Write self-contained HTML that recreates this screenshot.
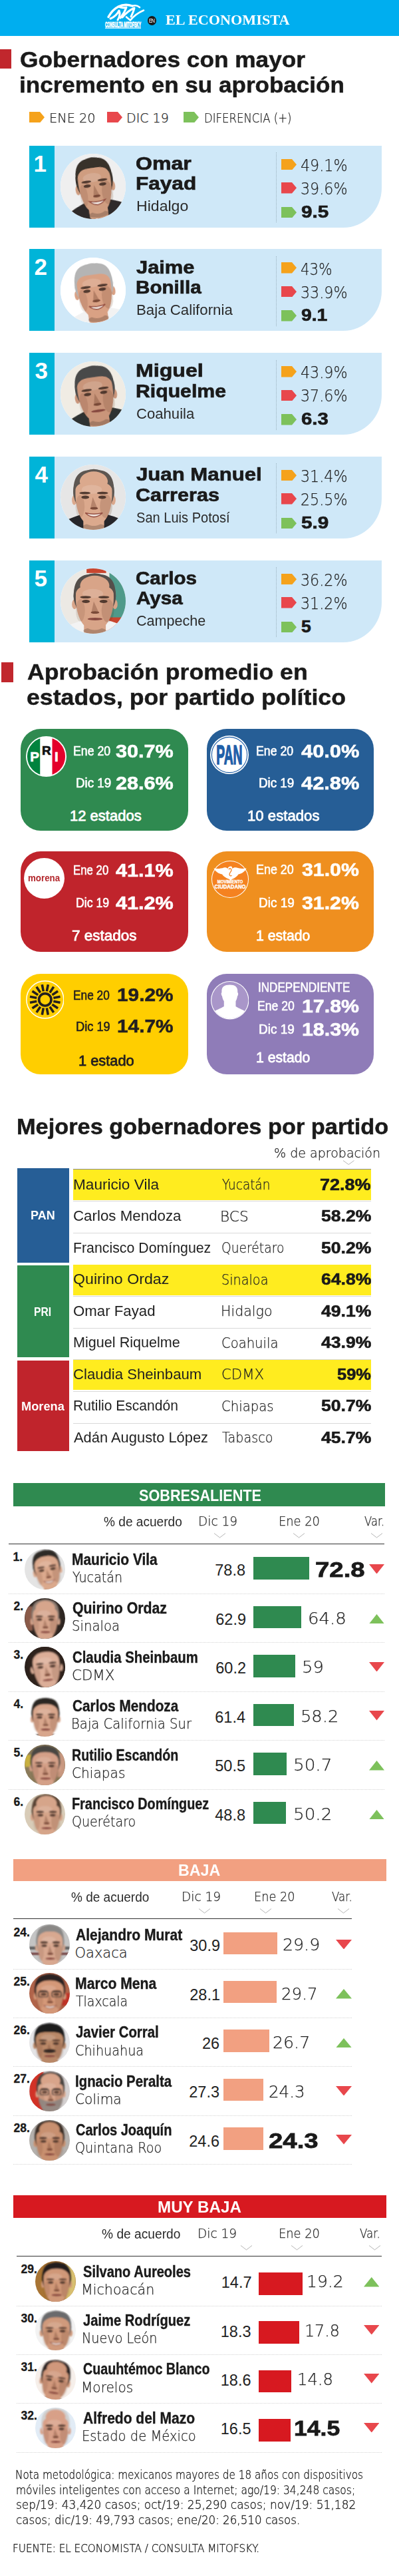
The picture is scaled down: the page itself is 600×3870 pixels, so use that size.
<!DOCTYPE html>
<html lang="es"><head><meta charset="utf-8"><title>Gobernadores - El Economista / Consulta Mitofsky</title>
<style>
html,body{margin:0;padding:0;background:#fff}
body{width:600px;height:3870px;position:relative;overflow:hidden;font-family:"Liberation Sans",sans-serif;color:#231f20}
#g div,#g svg{position:absolute}
#t span{position:absolute;white-space:nowrap;line-height:1;transform-origin:0 0}
#t .sf{font-family:'Liberation Serif',serif}
#t .lt{font-family:'DejaVu Sans Light','DejaVu Sans','Liberation Sans',sans-serif;font-weight:200}
</style></head><body>
<div id="g">
<div style="left:0px;top:0px;width:600px;height:54px;background:#00aeef;"></div>
<svg style="left:156px;top:2px" width="64" height="44" viewBox="156 2 64 44"><g fill="none" stroke="#fff" stroke-linecap="round" stroke-linejoin="round"><path d="M163,25.5 C167,18 172,13 178,10 C184,7 192,6.5 199,9" stroke-width="3.4"/><path d="M166,28 C171,26 176,22 179,16 C181,20 180,25 177,30" stroke-width="3"/><path d="M178,10 C182,12 186,12 190,11 C188,17 185,22 181,27" stroke-width="3"/><path d="M184,26 C189,20 195,15 202,12 C201,17 199,21 197,25" stroke-width="3"/><path d="M199,9 C203,7.5 207,8.5 210,11" stroke-width="2.6"/><path d="M190,25.5 L196,30.5 C201,24 208,19 216,15.5" stroke-width="2.6"/></g><text x="158" y="40.6" font-family="Liberation Sans, sans-serif" font-weight="700" font-size="11.5" fill="#fff" stroke="#fff" stroke-width="0.8" textLength="54" lengthAdjust="spacingAndGlyphs">CONSULTA MITOFSKY</text><rect x="158" y="41.6" width="54" height="1.2" fill="#fff"/></svg>
<div style="left:222px;top:24.2px;width:13.4px;height:13.4px;border-radius:50%;background:#1a1a1a"></div>
<div style="left:0px;top:74px;width:17px;height:29px;background:#c1272d;"></div>
<svg style="left:44px;top:167.5px" width="23" height="16.5"><polygon points="0,0 16,0 23,8.25 16,16.5 0,16.5" fill="#f5a21b"/></svg>
<svg style="left:161px;top:167.5px" width="23" height="16.5"><polygon points="0,0 16,0 23,8.25 16,16.5 0,16.5" fill="#e8474c"/></svg>
<svg style="left:276px;top:167.5px" width="23" height="16.5"><polygon points="0,0 16,0 23,8.25 16,16.5 0,16.5" fill="#7dc15b"/></svg>
<div style="left:44px;top:218.5px;width:530px;height:123px;background:#cfe8f8;border-bottom-right-radius:58px 60px"></div>
<div style="left:44px;top:218.5px;width:38px;height:123px;background:#00b4d8;"></div>
<div style="left:91px;top:231.0px;width:98px;height:98px;border-radius:50%;background:#fff"></div>
<svg style="left:91.0px;top:231.0px" width="98.0" height="98.0" viewBox="0 0 200 200"><defs><clipPath id="c1"><circle cx="100" cy="100" r="100"/></clipPath><filter id="b1" x="-10%" y="-10%" width="120%" height="120%"><feGaussianBlur stdDeviation="1.6"/></filter></defs><g clip-path="url(#c1)"><rect width="200" height="200" fill="#efefef"/><g filter="url(#b1)" transform="rotate(-8 106 98)"><path d="M-23,215 C-12,174 56,150 81,142 L134,142 C162,150 229,174 240,215Z" fill="#2d2b2b"/><polygon points="78,142 137,142 118,215 98,215" fill="#f4f4f4"/><polygon points="101,160 117,160 120,215 100,215" fill="#7a3a30"/><rect x="77" y="137" width="58" height="62" rx="10" fill="#cf9d80"/><ellipse cx="106" cy="186" rx="31" ry="10" fill="#00000030"/><ellipse cx="52" cy="105" rx="7" ry="15" fill="#cf9d80"/><ellipse cx="160" cy="105" rx="7" ry="15" fill="#cf9d80"/><ellipse cx="106" cy="79" rx="57" ry="69" fill="#37302c"/><path d="M56,72 C53,137 72,184 106,184 C140,184 159,137 156,72 C154,25 58,25 56,72Z" fill="#cf9d80"/><path d="M50,94 C46,21 72,12 106,12 C140,12 166,21 162,94 C158,40 134,43 106,43 C78,43 54,40 50,94Z" fill="#37302c"/><ellipse cx="141" cy="124" rx="17" ry="36" fill="#5a2a1a" opacity="0.16"/><ellipse cx="68" cy="124" rx="12" ry="34" fill="#5a2a1a" opacity="0.12"/><ellipse cx="100" cy="72" rx="28" ry="14" fill="#fff" opacity="0.14"/></g><g filter="url(#b1)" opacity="0.85" transform="rotate(-8 106 98)"><ellipse cx="82" cy="96" rx="11" ry="5" fill="#3e2a22"/><ellipse cx="130" cy="96" rx="11" ry="5" fill="#3e2a22"/><ellipse cx="81" cy="83" rx="15" ry="4" fill="#3e2a22"/><ellipse cx="131" cy="83" rx="15" ry="4" fill="#3e2a22"/><path d="M103,96 L97,129 L116,129Z" fill="#7a4a38" opacity="0.45"/><ellipse cx="107" cy="130" rx="11" ry="4" fill="#6a3a2c"/><path d="M82,144 Q106,151 131,144 Q106,169 82,144Z" fill="#f4efec" stroke="#8a4238" stroke-width="3"/></g></g></svg>
<div style="left:415px;top:229.0px;width:0;height:105px;border-left:1px dotted #9ab0bd"></div>
<svg style="left:423px;top:238.5px" width="23" height="16.5"><polygon points="0,0 16,0 23,8.25 16,16.5 0,16.5" fill="#f5a21b"/></svg>
<svg style="left:423px;top:274.0px" width="23" height="16.5"><polygon points="0,0 16,0 23,8.25 16,16.5 0,16.5" fill="#e8474c"/></svg>
<svg style="left:423px;top:310.5px" width="23" height="16.5"><polygon points="0,0 16,0 23,8.25 16,16.5 0,16.5" fill="#7dc15b"/></svg>
<div style="left:44px;top:374.25px;width:530px;height:123px;background:#cfe8f8;border-bottom-right-radius:58px 60px"></div>
<div style="left:44px;top:374.25px;width:38px;height:123px;background:#00b4d8;"></div>
<div style="left:91px;top:386.75px;width:98px;height:98px;border-radius:50%;background:#fff"></div>
<svg style="left:91.0px;top:386.8px" width="98.0" height="98.0" viewBox="0 0 200 200"><defs><clipPath id="c2"><circle cx="100" cy="100" r="100"/></clipPath><filter id="b2" x="-10%" y="-10%" width="120%" height="120%"><feGaussianBlur stdDeviation="1.6"/></filter></defs><g clip-path="url(#c2)"><rect width="200" height="200" fill="#ffffff"/><g filter="url(#b2)" transform="rotate(-8 105 102)"><path d="M-28,215 C-17,188 53,164 79,156 L134,156 C163,164 233,188 244,215Z" fill="#f2f2f2"/><polygon points="76,156 137,156 118,215 96,215" fill="#ffffff"/><rect x="75" y="140" width="60" height="60" rx="10" fill="#d9a184"/><ellipse cx="105" cy="188" rx="32" ry="10" fill="#00000030"/><ellipse cx="49" cy="109" rx="7" ry="14" fill="#d9a184"/><ellipse cx="161" cy="109" rx="7" ry="14" fill="#d9a184"/><ellipse cx="105" cy="84" rx="59" ry="67" fill="#b4b4b4"/><path d="M53,77 C50,140 70,186 105,186 C140,186 160,140 157,77 C154,31 56,31 53,77Z" fill="#d9a184"/><path d="M47,98 C42,26 70,18 105,18 C140,18 168,26 163,98 C158,48 134,52 105,52 C76,52 52,48 47,98Z" fill="#b4b4b4"/><ellipse cx="141" cy="127" rx="17" ry="35" fill="#5a2a1a" opacity="0.16"/><ellipse cx="66" cy="127" rx="13" ry="34" fill="#5a2a1a" opacity="0.12"/><ellipse cx="99" cy="77" rx="29" ry="13" fill="#fff" opacity="0.14"/></g><g filter="url(#b2)" opacity="0.85" transform="rotate(-8 105 102)"><ellipse cx="81" cy="100" rx="11" ry="5" fill="#3e2a22"/><ellipse cx="129" cy="100" rx="11" ry="5" fill="#3e2a22"/><ellipse cx="79" cy="88" rx="16" ry="4" fill="#3e2a22"/><ellipse cx="131" cy="88" rx="16" ry="4" fill="#3e2a22"/><path d="M102,100 L96,132 L115,132Z" fill="#7a4a38" opacity="0.45"/><ellipse cx="106" cy="133" rx="12" ry="4" fill="#6a3a2c"/><path d="M81,147 Q105,154 131,147 Q105,171 81,147Z" fill="#f4efec" stroke="#8a4238" stroke-width="3"/></g></g></svg>
<div style="left:415px;top:384.75px;width:0;height:105px;border-left:1px dotted #9ab0bd"></div>
<svg style="left:423px;top:394.25px" width="23" height="16.5"><polygon points="0,0 16,0 23,8.25 16,16.5 0,16.5" fill="#f5a21b"/></svg>
<svg style="left:423px;top:429.75px" width="23" height="16.5"><polygon points="0,0 16,0 23,8.25 16,16.5 0,16.5" fill="#e8474c"/></svg>
<svg style="left:423px;top:466.25px" width="23" height="16.5"><polygon points="0,0 16,0 23,8.25 16,16.5 0,16.5" fill="#7dc15b"/></svg>
<div style="left:44px;top:530.0px;width:530px;height:123px;background:#cfe8f8;border-bottom-right-radius:58px 60px"></div>
<div style="left:44px;top:530.0px;width:38px;height:123px;background:#00b4d8;"></div>
<div style="left:91px;top:542.5px;width:98px;height:98px;border-radius:50%;background:#fff"></div>
<svg style="left:91.0px;top:542.5px" width="98.0" height="98.0" viewBox="0 0 200 200"><defs><clipPath id="c3"><circle cx="100" cy="100" r="100"/></clipPath><filter id="b3" x="-10%" y="-10%" width="120%" height="120%"><feGaussianBlur stdDeviation="1.6"/></filter></defs><g clip-path="url(#c3)"><rect width="200" height="200" fill="#f0ece4"/><g filter="url(#b3)" transform="rotate(-8 108 100)"><path d="M-30,215 C-18,176 54,152 81,144 L138,144 C168,152 240,176 252,215Z" fill="#2f3330"/><polygon points="78,144 141,144 121,215 99,215" fill="#f0f0f0"/><polygon points="103,162 119,162 122,215 102,215" fill="#b02a30"/><rect x="77" y="139" width="62" height="62" rx="10" fill="#c9957a"/><ellipse cx="108" cy="188" rx="33" ry="10" fill="#00000030"/><ellipse cx="50" cy="107" rx="7" ry="15" fill="#c9957a"/><ellipse cx="166" cy="107" rx="7" ry="15" fill="#c9957a"/><ellipse cx="108" cy="81" rx="61" ry="69" fill="#4a4a4a"/><path d="M54,74 C51,139 72,186 108,186 C144,186 165,139 162,74 C159,27 57,27 54,74Z" fill="#c9957a"/><path d="M48,96 C43,23 72,14 108,14 C144,14 173,23 168,96 C163,45 138,48 108,48 C78,48 53,45 48,96Z" fill="#4a4a4a"/><ellipse cx="145" cy="126" rx="18" ry="36" fill="#5a2a1a" opacity="0.16"/><ellipse cx="67" cy="126" rx="13" ry="34" fill="#5a2a1a" opacity="0.12"/><ellipse cx="102" cy="74" rx="30" ry="14" fill="#fff" opacity="0.14"/></g><g filter="url(#b3)" opacity="0.85" transform="rotate(-8 108 100)"><ellipse cx="83" cy="98" rx="11" ry="5" fill="#3e2a22"/><ellipse cx="133" cy="98" rx="11" ry="5" fill="#3e2a22"/><ellipse cx="82" cy="85" rx="16" ry="4" fill="#3e2a22"/><ellipse cx="134" cy="85" rx="16" ry="4" fill="#3e2a22"/><path d="M105,98 L98,131 L119,131Z" fill="#7a4a38" opacity="0.45"/><ellipse cx="109" cy="132" rx="12" ry="4" fill="#6a3a2c"/><ellipse cx="109" cy="152" rx="22" ry="4" fill="#7a3a34"/></g></g></svg>
<div style="left:415px;top:540.5px;width:0;height:105px;border-left:1px dotted #9ab0bd"></div>
<svg style="left:423px;top:550.0px" width="23" height="16.5"><polygon points="0,0 16,0 23,8.25 16,16.5 0,16.5" fill="#f5a21b"/></svg>
<svg style="left:423px;top:585.5px" width="23" height="16.5"><polygon points="0,0 16,0 23,8.25 16,16.5 0,16.5" fill="#e8474c"/></svg>
<svg style="left:423px;top:622.0px" width="23" height="16.5"><polygon points="0,0 16,0 23,8.25 16,16.5 0,16.5" fill="#7dc15b"/></svg>
<div style="left:44px;top:685.75px;width:530px;height:123px;background:#cfe8f8;border-bottom-right-radius:58px 60px"></div>
<div style="left:44px;top:685.75px;width:38px;height:123px;background:#00b4d8;"></div>
<div style="left:91px;top:698.25px;width:98px;height:98px;border-radius:50%;background:#fff"></div>
<svg style="left:91.0px;top:698.2px" width="98.0" height="98.0" viewBox="0 0 200 200"><defs><clipPath id="c4"><circle cx="100" cy="100" r="100"/></clipPath><filter id="b4" x="-10%" y="-10%" width="120%" height="120%"><feGaussianBlur stdDeviation="1.6"/></filter></defs><g clip-path="url(#c4)"><rect width="200" height="200" fill="#e6e6e6"/><g filter="url(#b4)" transform="rotate(0 102 102)"><path d="M-41,215 C-28,182 46,158 74,150 L133,150 C164,158 238,182 251,215Z" fill="#26262a"/><polygon points="71,150 136,150 116,215 93,215" fill="#f6f6f6"/><rect x="70" y="141" width="64" height="62" rx="10" fill="#dba98d"/><ellipse cx="102" cy="190" rx="34" ry="10" fill="#00000030"/><ellipse cx="42" cy="109" rx="7" ry="15" fill="#dba98d"/><ellipse cx="162" cy="109" rx="7" ry="15" fill="#dba98d"/><ellipse cx="102" cy="83" rx="63" ry="69" fill="#5d5651"/><path d="M46,76 C43,141 65,188 102,188 C139,188 161,141 158,76 C155,29 49,29 46,76Z" fill="#dba98d"/><path d="M40,98 C35,25 65,16 102,16 C139,16 169,25 164,98 C159,50 133,53 102,64 C71,53 45,50 40,98Z" fill="#5d5651"/><ellipse cx="102" cy="52" rx="43" ry="31" fill="#dba98d"/><ellipse cx="140" cy="128" rx="19" ry="36" fill="#5a2a1a" opacity="0.16"/><ellipse cx="60" cy="128" rx="14" ry="34" fill="#5a2a1a" opacity="0.12"/><ellipse cx="96" cy="76" rx="31" ry="14" fill="#fff" opacity="0.14"/></g><g filter="url(#b4)" opacity="0.85" transform="rotate(0 102 102)"><ellipse cx="76" cy="100" rx="12" ry="5" fill="#3e2a22"/><ellipse cx="128" cy="100" rx="12" ry="5" fill="#3e2a22"/><ellipse cx="75" cy="87" rx="17" ry="4" fill="#3e2a22"/><ellipse cx="129" cy="87" rx="17" ry="4" fill="#3e2a22"/><path d="M99,100 L92,133 L113,133Z" fill="#7a4a38" opacity="0.45"/><ellipse cx="103" cy="134" rx="12" ry="4" fill="#6a3a2c"/><path d="M76,148 Q102,155 129,148 Q102,173 76,148Z" fill="#f4efec" stroke="#8a4238" stroke-width="3"/></g></g></svg>
<div style="left:415px;top:696.25px;width:0;height:105px;border-left:1px dotted #9ab0bd"></div>
<svg style="left:423px;top:705.75px" width="23" height="16.5"><polygon points="0,0 16,0 23,8.25 16,16.5 0,16.5" fill="#f5a21b"/></svg>
<svg style="left:423px;top:741.25px" width="23" height="16.5"><polygon points="0,0 16,0 23,8.25 16,16.5 0,16.5" fill="#e8474c"/></svg>
<svg style="left:423px;top:777.75px" width="23" height="16.5"><polygon points="0,0 16,0 23,8.25 16,16.5 0,16.5" fill="#7dc15b"/></svg>
<div style="left:44px;top:841.5px;width:530px;height:123px;background:#cfe8f8;border-bottom-right-radius:58px 60px"></div>
<div style="left:44px;top:841.5px;width:38px;height:123px;background:#00b4d8;"></div>
<div style="left:91px;top:854.0px;width:98px;height:98px;border-radius:50%;background:#fff"></div>
<svg style="left:91.0px;top:854.0px" width="98.0" height="98.0" viewBox="0 0 200 200"><defs><clipPath id="c5"><circle cx="100" cy="100" r="100"/></clipPath><filter id="b5" x="-10%" y="-10%" width="120%" height="120%"><feGaussianBlur stdDeviation="1.6"/></filter></defs><g clip-path="url(#c5)"><rect width="200" height="200" fill="#ece9e4"/><g filter="url(#b5)"><rect x="150" y="0" width="60" height="200" fill="#4f9a8a"/><rect x="140" y="150" width="60" height="50" fill="#c8452e"/><rect x="80" y="0" width="60" height="14" fill="#c8452e"/></g><g filter="url(#b5)" transform="rotate(0 105 103)"><path d="M-42,215 C-29,189 47,165 76,157 L137,157 C169,165 246,189 259,215Z" fill="#f3f3f3"/><polygon points="73,157 140,157 119,215 95,215" fill="#ffffff"/><rect x="72" y="142" width="67" height="62" rx="10" fill="#d8a488"/><ellipse cx="105" cy="191" rx="35" ry="10" fill="#00000030"/><ellipse cx="43" cy="110" rx="8" ry="15" fill="#d8a488"/><ellipse cx="167" cy="110" rx="8" ry="15" fill="#d8a488"/><ellipse cx="105" cy="84" rx="65" ry="69" fill="#55504c"/><path d="M47,77 C44,142 67,189 105,189 C143,189 166,142 163,77 C159,30 51,30 47,77Z" fill="#d8a488"/><path d="M41,99 C36,26 67,17 105,17 C143,17 174,26 169,99 C164,48 137,52 105,59 C73,52 46,48 41,99Z" fill="#55504c"/><ellipse cx="105" cy="53" rx="45" ry="31" fill="#d8a488"/><ellipse cx="145" cy="129" rx="19" ry="36" fill="#5a2a1a" opacity="0.16"/><ellipse cx="61" cy="129" rx="14" ry="34" fill="#5a2a1a" opacity="0.12"/><ellipse cx="99" cy="77" rx="32" ry="14" fill="#fff" opacity="0.14"/></g><g filter="url(#b5)" opacity="0.85" transform="rotate(0 105 103)"><ellipse cx="78" cy="101" rx="12" ry="5" fill="#3e2a22"/><ellipse cx="132" cy="101" rx="12" ry="5" fill="#3e2a22"/><ellipse cx="77" cy="88" rx="17" ry="4" fill="#3e2a22"/><ellipse cx="133" cy="88" rx="17" ry="4" fill="#3e2a22"/><path d="M102,101 L95,134 L117,134Z" fill="#7a4a38" opacity="0.45"/><ellipse cx="106" cy="135" rx="13" ry="4" fill="#6a3a2c"/><ellipse cx="106" cy="155" rx="23" ry="4" fill="#7a3a34"/></g></g></svg>
<div style="left:415px;top:852.0px;width:0;height:105px;border-left:1px dotted #9ab0bd"></div>
<svg style="left:423px;top:861.5px" width="23" height="16.5"><polygon points="0,0 16,0 23,8.25 16,16.5 0,16.5" fill="#f5a21b"/></svg>
<svg style="left:423px;top:897.0px" width="23" height="16.5"><polygon points="0,0 16,0 23,8.25 16,16.5 0,16.5" fill="#e8474c"/></svg>
<svg style="left:423px;top:933.5px" width="23" height="16.5"><polygon points="0,0 16,0 23,8.25 16,16.5 0,16.5" fill="#7dc15b"/></svg>
<div style="left:2px;top:995px;width:17.5px;height:29.5px;background:#c1272d;"></div>
<div style="left:31px;top:1095px;width:251.5px;height:153px;background:#2f8a50;border-radius:30px"></div>
<svg style="left:38.5px;top:1105.5px" width="61" height="61" viewBox="0 0 61 61"><defs><clipPath id="pri"><circle cx="30.5" cy="30.5" r="28.6"/></clipPath></defs><circle cx="30.5" cy="30.5" r="30.5" fill="#fff"/><g clip-path="url(#pri)"><rect x="0" y="0" width="21.5" height="61" fill="#00833e"/><rect x="21.5" y="0" width="18" height="61" fill="#fff"/><rect x="39.5" y="0" width="22" height="61" fill="#e4002b"/></g><g font-family="Liberation Sans, sans-serif" font-weight="bold" stroke-width="0.7"><text x="6.3" y="37.8" font-size="20.5" fill="#fff" stroke="#fff">P</text><text x="24" y="27.8" font-size="19" fill="#111" stroke="#111">R</text><text x="43" y="37.8" font-size="20.5" fill="#fff" stroke="#fff">I</text></g></svg>
<div style="left:311px;top:1095px;width:250.5px;height:153px;background:#265e96;border-radius:30px"></div>
<svg style="left:316.4px;top:1104.6px" width="58" height="58" viewBox="0 0 58 58"><circle cx="29" cy="29" r="29" fill="#fff"/><circle cx="29" cy="29" r="26.6" fill="none" stroke="#1f5fa8" stroke-width="1.1"/><text x="9.2" y="43.4" font-family="Liberation Sans, sans-serif" font-weight="bold" font-size="40.5" fill="#1f5fa8" stroke="#1f5fa8" stroke-width="1.6" textLength="39.4" lengthAdjust="spacingAndGlyphs">PAN</text></svg>
<div style="left:31px;top:1278.5px;width:251.5px;height:151.5px;background:#c0242c;border-radius:30px"></div>
<div style="left:36px;top:1289px;width:61px;height:61px;border-radius:50%;background:#fff"></div>
<div style="left:311px;top:1278.5px;width:250.5px;height:151.5px;background:#ef8f1f;border-radius:30px"></div>
<svg style="left:317.7px;top:1292.5px" width="56" height="56" viewBox="0 0 56 56"><circle cx="28" cy="28" r="28" fill="#fff"/><circle cx="28" cy="28" r="27" fill="#f58220"/><path d="M3.5,11.5 C9,12.5 14,12 18.5,10.5 C21,9.8 23,10.5 24.5,12 C25,9.5 27,8.2 29.5,8.6 C31,9 31.6,10.4 31,12 C33,10.4 35.5,9.8 38,10.6 C42,12 47,12.4 52.5,11.5 C50.5,16 46,19.5 40.5,20.5 C38.5,23.5 35.5,26 31.5,27.5 L29,29.5 L26,27.5 C21.5,26 18,23.5 16,20.5 C10.5,19.5 5.5,16 3.5,11.5Z" fill="#fff"/><path d="M26,13 C27.5,11 30,11.5 30,14 C30,17 26.5,18 27,21 C27.3,23 29.5,23.5 30.5,22" fill="none" stroke="#f58220" stroke-width="1.3"/><text x="28" y="34.2" text-anchor="middle" font-family="Liberation Sans, sans-serif" font-weight="bold" font-size="6.4" fill="#fff" stroke="#fff" stroke-width="0.3" textLength="38.5" lengthAdjust="spacingAndGlyphs">MOVIMIENTO</text><text x="28" y="42" text-anchor="middle" font-family="Liberation Sans, sans-serif" font-weight="bold" font-size="8.4" fill="#fff" stroke="#fff" stroke-width="0.4" textLength="47" lengthAdjust="spacingAndGlyphs">CIUDADANO</text></svg>
<div style="left:31px;top:1462.5px;width:251.5px;height:151px;background:#ffce00;border-radius:30px"></div>
<svg style="left:38.6px;top:1473.3px" width="57.6" height="57.6" viewBox="0 0 57.6 57.6"><circle cx="28.8" cy="28.8" r="28" fill="#ffce00" stroke="#fff" stroke-width="1.5"/><rect x="27" y="5.6" width="3.6" height="10.4" fill="#231f20" transform="rotate(11.25 28.8 28.8)"/><rect x="27" y="5.6" width="3.6" height="10.4" fill="#231f20" transform="rotate(33.75 28.8 28.8)"/><rect x="27" y="5.6" width="3.6" height="10.4" fill="#231f20" transform="rotate(56.25 28.8 28.8)"/><rect x="27" y="5.6" width="3.6" height="10.4" fill="#231f20" transform="rotate(78.75 28.8 28.8)"/><rect x="27" y="5.6" width="3.6" height="10.4" fill="#231f20" transform="rotate(101.25 28.8 28.8)"/><rect x="27" y="5.6" width="3.6" height="10.4" fill="#231f20" transform="rotate(123.75 28.8 28.8)"/><rect x="27" y="5.6" width="3.6" height="10.4" fill="#231f20" transform="rotate(146.25 28.8 28.8)"/><rect x="27" y="5.6" width="3.6" height="10.4" fill="#231f20" transform="rotate(168.75 28.8 28.8)"/><rect x="27" y="5.6" width="3.6" height="10.4" fill="#231f20" transform="rotate(191.25 28.8 28.8)"/><rect x="27" y="5.6" width="3.6" height="10.4" fill="#231f20" transform="rotate(213.75 28.8 28.8)"/><rect x="27" y="5.6" width="3.6" height="10.4" fill="#231f20" transform="rotate(236.25 28.8 28.8)"/><rect x="27" y="5.6" width="3.6" height="10.4" fill="#231f20" transform="rotate(258.75 28.8 28.8)"/><rect x="27" y="5.6" width="3.6" height="10.4" fill="#231f20" transform="rotate(281.25 28.8 28.8)"/><rect x="27" y="5.6" width="3.6" height="10.4" fill="#231f20" transform="rotate(303.75 28.8 28.8)"/><rect x="27" y="5.6" width="3.6" height="10.4" fill="#231f20" transform="rotate(326.25 28.8 28.8)"/><rect x="27" y="5.6" width="3.6" height="10.4" fill="#231f20" transform="rotate(348.75 28.8 28.8)"/><circle cx="28.8" cy="28.8" r="9.2" fill="none" stroke="#231f20" stroke-width="3.7"/></svg>
<div style="left:311px;top:1462.5px;width:250.5px;height:151.5px;background:#8f7cb8;border-radius:30px"></div>
<svg style="left:317px;top:1474.3px" width="57.4" height="57.4" viewBox="0 0 57.4 57.4"><defs><clipPath id="ind"><circle cx="28.7" cy="28.7" r="27.6"/></clipPath></defs><circle cx="28.7" cy="28.7" r="28.7" fill="#fff"/><circle cx="28.7" cy="28.7" r="27.6" fill="#a996c9"/><g clip-path="url(#ind)" fill="#fff"><path d="M16.5,17 C15.5,9 20,5.5 28.5,5.5 C37,5.5 41,9 40.2,17 C41.6,17.5 41.4,21 40,22.5 C39.5,26 38.5,28.5 37.5,30 L37.5,38 C42,41 50,43.5 55,47.5 L55,58 L2,58 L2,47.5 C7,43.5 15,41 19.8,38 L19.8,30 C18.6,28.5 17.6,26 17,22.5 C15.6,21 15.2,17.5 16.5,17Z"/></g></svg>
<svg style="left:516px;top:1742.5px" width="16.5" height="7.5"><polyline points="0,0.5 8.25,6.5 16.5,0.5" fill="none" stroke="#b5b5b5" stroke-width="1"/></svg>
<div style="left:26px;top:1755px;width:77.5px;height:141.5px;background:#265e96;"></div>
<div style="left:26px;top:1901px;width:77.5px;height:138px;background:#2f8a50;"></div>
<div style="left:26px;top:2044px;width:77.5px;height:136px;background:#c0242c;"></div>
<div style="left:109.5px;top:1756px;width:448px;height:1.2px;background:#8c8c8c;"></div>
<div style="left:109.5px;top:1757.3px;width:448px;height:45.5px;background:#ffec1f;"></div>
<div style="left:109.5px;top:1804.3px;width:448px;height:1px;background:#d9d9d9;"></div>
<div style="left:109.5px;top:1851.8999999999999px;width:448px;height:1px;background:#d9d9d9;"></div>
<div style="left:109.5px;top:1899.5px;width:448px;height:1px;background:#d9d9d9;"></div>
<div style="left:109.5px;top:1900.1px;width:448px;height:45.5px;background:#ffec1f;"></div>
<div style="left:109.5px;top:1947.1px;width:448px;height:1px;background:#d9d9d9;"></div>
<div style="left:109.5px;top:1994.7px;width:448px;height:1px;background:#d9d9d9;"></div>
<div style="left:109.5px;top:2042.3px;width:448px;height:1px;background:#d9d9d9;"></div>
<div style="left:109.5px;top:2042.9px;width:448px;height:45.5px;background:#ffec1f;"></div>
<div style="left:109.5px;top:2089.9px;width:448px;height:1px;background:#d9d9d9;"></div>
<div style="left:109.5px;top:2137.5px;width:448px;height:1px;background:#d9d9d9;"></div>
<div style="left:20px;top:2227.5px;width:558.5px;height:35px;background:#2f8a50;"></div>
<svg style="left:321.5px;top:2303px" width="17" height="8"><polyline points="0,0.5 8.5,7 17,0.5" fill="none" stroke="#b5b5b5" stroke-width="1"/></svg>
<svg style="left:440.5px;top:2303px" width="17" height="8"><polyline points="0,0.5 8.5,7 17,0.5" fill="none" stroke="#b5b5b5" stroke-width="1"/></svg>
<svg style="left:557.5px;top:2303px" width="17" height="8"><polyline points="0,0.5 8.5,7 17,0.5" fill="none" stroke="#b5b5b5" stroke-width="1"/></svg>
<div style="left:13px;top:2318.5px;width:564.5px;height:1px;background:#333;"></div>
<svg style="left:37.0px;top:2327.0px" width="61.0" height="61.0" viewBox="0 0 200 200"><defs><clipPath id="c6"><circle cx="100" cy="100" r="100"/></clipPath><filter id="b6" x="-10%" y="-10%" width="120%" height="120%"><feGaussianBlur stdDeviation="3"/></filter></defs><g clip-path="url(#c6)"><rect width="200" height="200" fill="#e4e4e4"/><g filter="url(#b6)" transform="rotate(-10 112 104)"><path d="M-40,215 C-27,218 53,194 82,186 L145,186 C178,194 257,218 270,215Z" fill="#f4f4f4"/><polygon points="79,186 148,186 127,215 102,215" fill="#fff"/><rect x="78" y="148" width="69" height="71" rx="10" fill="#dba98d"/><ellipse cx="112" cy="204" rx="36" ry="12" fill="#00000030"/><ellipse cx="48" cy="112" rx="8" ry="17" fill="#dba98d"/><ellipse cx="176" cy="112" rx="8" ry="17" fill="#dba98d"/><ellipse cx="112" cy="82" rx="67" ry="78" fill="#2e2a28"/><path d="M53,75 C49,148 72,202 112,202 C152,202 175,148 171,75 C168,21 56,21 53,75Z" fill="#dba98d"/><path d="M46,99 C41,16 72,6 112,6 C152,6 183,16 178,99 C173,32 145,35 112,35 C79,35 51,32 46,99Z" fill="#2e2a28"/><ellipse cx="153" cy="133" rx="20" ry="41" fill="#5a2a1a" opacity="0.16"/><ellipse cx="67" cy="133" rx="15" ry="39" fill="#5a2a1a" opacity="0.12"/><ellipse cx="105" cy="75" rx="33" ry="16" fill="#fff" opacity="0.14"/></g><g filter="url(#b6)" opacity="0.85" transform="rotate(-10 112 104)"><ellipse cx="84" cy="102" rx="13" ry="6" fill="#3e2a22"/><ellipse cx="140" cy="102" rx="13" ry="6" fill="#3e2a22"/><ellipse cx="83" cy="87" rx="18" ry="4" fill="#3e2a22"/><ellipse cx="141" cy="87" rx="18" ry="4" fill="#3e2a22"/><path d="M109,102 L101,139 L124,139Z" fill="#7a4a38" opacity="0.45"/><ellipse cx="113" cy="140" rx="13" ry="4" fill="#6a3a2c"/><path d="M84,156 Q112,165 141,156 Q112,184 84,156Z" fill="#f4efec" stroke="#8a4238" stroke-width="3"/></g></g></svg>
<div style="left:381px;top:2339.0px;width:84px;height:33.5px;background:#2f8a50;"></div>
<svg style="left:554.5px;top:2349.5px" width="23.0" height="14.5"><polygon points="0,0 23.0,0 11.5,14.5" fill="#e8474c"/></svg>
<div style="left:13px;top:2393.5px;width:564.5px;height:0;border-top:1px dotted #d4d4d4"></div>
<svg style="left:37.0px;top:2400.5px" width="61.0" height="61.0" viewBox="0 0 200 200"><defs><clipPath id="c7"><circle cx="100" cy="100" r="100"/></clipPath><filter id="b7" x="-10%" y="-10%" width="120%" height="120%"><feGaussianBlur stdDeviation="3"/></filter></defs><g clip-path="url(#c7)"><rect width="200" height="200" fill="#2e2622"/><g filter="url(#b7)"><rect x="0" y="40" width="40" height="120" fill="#8a5a48"/></g><g filter="url(#b7)" transform="rotate(0 102 107)"><path d="M-54,215 C-41,223 41,199 71,191 L136,191 C170,199 252,223 265,215Z" fill="#3a3432"/><polygon points="68,191 139,191 117,215 92,215" fill="#e8e8e8"/><rect x="67" y="152" width="71" height="72" rx="10" fill="#d6a58c"/><ellipse cx="102" cy="209" rx="37" ry="12" fill="#00000030"/><ellipse cx="36" cy="115" rx="8" ry="17" fill="#d6a58c"/><ellipse cx="168" cy="115" rx="8" ry="17" fill="#d6a58c"/><ellipse cx="102" cy="85" rx="69" ry="80" fill="#8a7a70"/><path d="M41,77 C37,152 61,207 102,207 C143,207 167,152 163,77 C160,22 44,22 41,77Z" fill="#d6a58c"/><path d="M34,102 C29,17 61,7 102,7 C143,7 175,17 170,102 C165,42 136,46 102,53 C68,46 39,42 34,102Z" fill="#8a7a70"/><ellipse cx="102" cy="49" rx="48" ry="36" fill="#d6a58c"/><ellipse cx="144" cy="137" rx="20" ry="42" fill="#5a2a1a" opacity="0.16"/><ellipse cx="56" cy="137" rx="15" ry="40" fill="#5a2a1a" opacity="0.12"/><ellipse cx="95" cy="77" rx="34" ry="16" fill="#fff" opacity="0.14"/></g><g filter="url(#b7)" opacity="0.85" transform="rotate(0 102 107)"><ellipse cx="73" cy="105" rx="13" ry="6" fill="#3e2a22"/><ellipse cx="131" cy="105" rx="13" ry="6" fill="#3e2a22"/><ellipse cx="72" cy="90" rx="18" ry="4" fill="#3e2a22"/><ellipse cx="132" cy="90" rx="18" ry="4" fill="#3e2a22"/><path d="M99,105 L91,143 L114,143Z" fill="#7a4a38" opacity="0.45"/><ellipse cx="103" cy="144" rx="14" ry="4" fill="#6a3a2c"/><ellipse cx="103" cy="167" rx="24" ry="5" fill="#7a3a34"/></g></g></svg>
<div style="left:381px;top:2412.5px;width:72px;height:33.5px;background:#2f8a50;"></div>
<svg style="left:554.5px;top:2424.5px" width="23.0" height="14.5"><polygon points="0,14.5 11.5,0 23.0,14.5" fill="#7dc15b"/></svg>
<div style="left:13px;top:2467.0px;width:564.5px;height:0;border-top:1px dotted #d4d4d4"></div>
<svg style="left:37.0px;top:2474.0px" width="61.0" height="61.0" viewBox="0 0 200 200"><defs><clipPath id="c8"><circle cx="100" cy="100" r="100"/></clipPath><filter id="b8" x="-10%" y="-10%" width="120%" height="120%"><feGaussianBlur stdDeviation="3"/></filter></defs><g clip-path="url(#c8)"><rect width="200" height="200" fill="#2a201c"/><g filter="url(#b8)" transform="rotate(-6 108 100)"><path d="M-58,215 C-43,222 43,198 76,190 L144,190 C180,198 266,222 281,215Z" fill="#2a201c"/><polygon points="72,190 148,190 124,215 97,215" fill="#dcae98"/><rect x="71" y="148" width="75" height="76" rx="10" fill="#dcae98"/><ellipse cx="108" cy="208" rx="40" ry="13" fill="#00000030"/><ellipse cx="108" cy="112" rx="94" ry="127" fill="#2e221c"/><ellipse cx="38" cy="108" rx="9" ry="18" fill="#dcae98"/><ellipse cx="178" cy="108" rx="9" ry="18" fill="#dcae98"/><ellipse cx="108" cy="77" rx="73" ry="85" fill="#2e221c"/><path d="M43,68 C40,148 65,206 108,206 C151,206 176,148 173,68 C169,10 47,10 43,68Z" fill="#dcae98"/><path d="M36,95 C30,5 65,-6 108,-6 C151,-6 186,5 180,95 C174,11 144,13 108,13 C72,13 42,11 36,95Z" fill="#2e221c"/><ellipse cx="153" cy="132" rx="22" ry="45" fill="#5a2a1a" opacity="0.16"/><ellipse cx="59" cy="132" rx="16" ry="42" fill="#5a2a1a" opacity="0.12"/><ellipse cx="101" cy="68" rx="36" ry="17" fill="#fff" opacity="0.14"/></g><g filter="url(#b8)" opacity="0.85" transform="rotate(-6 108 100)"><ellipse cx="78" cy="98" rx="14" ry="6" fill="#3e2a22"/><ellipse cx="138" cy="98" rx="14" ry="6" fill="#3e2a22"/><ellipse cx="76" cy="82" rx="19" ry="5" fill="#3e2a22"/><ellipse cx="140" cy="82" rx="19" ry="5" fill="#3e2a22"/><path d="M104,98 L96,138 L121,138Z" fill="#7a4a38" opacity="0.45"/><ellipse cx="109" cy="139" rx="14" ry="5" fill="#6a3a2c"/><ellipse cx="109" cy="164" rx="26" ry="5" fill="#7a3a34"/></g></g></svg>
<div style="left:381px;top:2486.0px;width:62.5px;height:33.5px;background:#2f8a50;"></div>
<svg style="left:554.5px;top:2496.5px" width="23.0" height="14.5"><polygon points="0,0 23.0,0 11.5,14.5" fill="#e8474c"/></svg>
<div style="left:13px;top:2540.5px;width:564.5px;height:0;border-top:1px dotted #d4d4d4"></div>
<svg style="left:37.0px;top:2547.5px" width="61.0" height="61.0" viewBox="0 0 200 200"><defs><clipPath id="c9"><circle cx="100" cy="100" r="100"/></clipPath><filter id="b9" x="-10%" y="-10%" width="120%" height="120%"><feGaussianBlur stdDeviation="3"/></filter></defs><g clip-path="url(#c9)"><rect width="200" height="200" fill="#ffffff"/><g filter="url(#b9)" transform="rotate(0 103 107)"><path d="M-53,215 C-40,219 42,195 72,187 L137,187 C171,195 253,219 266,215Z" fill="#252527"/><polygon points="69,187 140,187 118,215 93,215" fill="#f4f4f4"/><rect x="68" y="150" width="71" height="69" rx="10" fill="#d8a68c"/><ellipse cx="103" cy="205" rx="37" ry="12" fill="#00000030"/><ellipse cx="37" cy="115" rx="8" ry="16" fill="#d8a68c"/><ellipse cx="169" cy="115" rx="8" ry="16" fill="#d8a68c"/><ellipse cx="103" cy="86" rx="69" ry="77" fill="#2a2624"/><path d="M42,78 C38,150 62,203 103,203 C144,203 168,150 164,78 C161,25 45,25 42,78Z" fill="#d8a68c"/><path d="M35,102 C30,21 62,11 103,11 C144,11 176,21 171,102 C166,37 137,40 103,40 C69,40 40,37 35,102Z" fill="#2a2624"/><ellipse cx="145" cy="136" rx="20" ry="40" fill="#5a2a1a" opacity="0.16"/><ellipse cx="57" cy="136" rx="15" ry="38" fill="#5a2a1a" opacity="0.12"/><ellipse cx="96" cy="78" rx="34" ry="15" fill="#fff" opacity="0.14"/></g><g filter="url(#b9)" opacity="0.85" transform="rotate(0 103 107)"><ellipse cx="74" cy="105" rx="13" ry="6" fill="#3e2a22"/><ellipse cx="132" cy="105" rx="13" ry="6" fill="#3e2a22"/><ellipse cx="73" cy="91" rx="18" ry="4" fill="#3e2a22"/><ellipse cx="133" cy="91" rx="18" ry="4" fill="#3e2a22"/><path d="M100,105 L92,142 L115,142Z" fill="#7a4a38" opacity="0.45"/><ellipse cx="104" cy="143" rx="14" ry="4" fill="#6a3a2c"/><ellipse cx="104" cy="165" rx="24" ry="5" fill="#7a3a34"/></g></g></svg>
<div style="left:381px;top:2559.5px;width:61px;height:33.5px;background:#2f8a50;"></div>
<svg style="left:554.5px;top:2570.0px" width="23.0" height="14.5"><polygon points="0,0 23.0,0 11.5,14.5" fill="#e8474c"/></svg>
<div style="left:13px;top:2614.0px;width:564.5px;height:0;border-top:1px dotted #d4d4d4"></div>
<svg style="left:37.0px;top:2621.0px" width="61.0" height="61.0" viewBox="0 0 200 200"><defs><clipPath id="c10"><circle cx="100" cy="100" r="100"/></clipPath><filter id="b10" x="-10%" y="-10%" width="120%" height="120%"><feGaussianBlur stdDeviation="3"/></filter></defs><g clip-path="url(#c10)"><rect width="200" height="200" fill="#8a7a5a"/><g filter="url(#b10)"><rect x="0" y="50" width="45" height="60" fill="#c8b040"/><rect x="160" y="40" width="40" height="120" fill="#c89880"/></g><g filter="url(#b10)" transform="rotate(0 102 107)"><path d="M-64,215 C-49,223 37,199 70,191 L138,191 C174,199 260,223 275,215Z" fill="#f0f0f0"/><polygon points="66,191 142,191 118,215 91,215" fill="#fff"/><rect x="65" y="152" width="75" height="72" rx="10" fill="#d4a088"/><ellipse cx="102" cy="209" rx="40" ry="12" fill="#00000030"/><ellipse cx="32" cy="115" rx="9" ry="17" fill="#d4a088"/><ellipse cx="172" cy="115" rx="9" ry="17" fill="#d4a088"/><ellipse cx="102" cy="85" rx="73" ry="80" fill="#4a4642"/><path d="M37,77 C34,152 59,207 102,207 C145,207 170,152 167,77 C163,22 41,22 37,77Z" fill="#d4a088"/><path d="M30,102 C24,17 59,7 102,7 C145,7 180,17 174,102 C168,34 138,37 102,37 C66,37 36,34 30,102Z" fill="#4a4642"/><ellipse cx="147" cy="137" rx="22" ry="42" fill="#5a2a1a" opacity="0.16"/><ellipse cx="53" cy="137" rx="16" ry="40" fill="#5a2a1a" opacity="0.12"/><ellipse cx="95" cy="77" rx="36" ry="16" fill="#fff" opacity="0.14"/></g><g filter="url(#b10)" opacity="0.85" transform="rotate(0 102 107)"><ellipse cx="72" cy="105" rx="14" ry="6" fill="#3e2a22"/><ellipse cx="132" cy="105" rx="14" ry="6" fill="#3e2a22"/><ellipse cx="70" cy="90" rx="19" ry="4" fill="#3e2a22"/><ellipse cx="134" cy="90" rx="19" ry="4" fill="#3e2a22"/><path d="M98,105 L90,143 L115,143Z" fill="#7a4a38" opacity="0.45"/><ellipse cx="103" cy="144" rx="14" ry="4" fill="#6a3a2c"/><ellipse cx="103" cy="167" rx="26" ry="5" fill="#7a3a34"/></g></g></svg>
<div style="left:381px;top:2633.0px;width:50px;height:33.5px;background:#2f8a50;"></div>
<svg style="left:554.5px;top:2645.0px" width="23.0" height="14.5"><polygon points="0,14.5 11.5,0 23.0,14.5" fill="#7dc15b"/></svg>
<div style="left:13px;top:2687.5px;width:564.5px;height:0;border-top:1px dotted #d4d4d4"></div>
<svg style="left:37.0px;top:2694.5px" width="61.0" height="61.0" viewBox="0 0 200 200"><defs><clipPath id="c11"><circle cx="100" cy="100" r="100"/></clipPath><filter id="b11" x="-10%" y="-10%" width="120%" height="120%"><feGaussianBlur stdDeviation="3"/></filter></defs><g clip-path="url(#c11)"><rect width="200" height="200" fill="#d8ccb8"/><g filter="url(#b11)" transform="rotate(0 108 107)"><path d="M-58,215 C-43,226 43,202 76,194 L144,194 C180,202 266,226 281,215Z" fill="#f0f0f0"/><polygon points="72,194 148,194 124,215 97,215" fill="#fff"/><rect x="71" y="153" width="75" height="74" rx="10" fill="#d6a58a"/><ellipse cx="108" cy="212" rx="40" ry="12" fill="#00000030"/><ellipse cx="38" cy="115" rx="9" ry="18" fill="#d6a58a"/><ellipse cx="178" cy="115" rx="9" ry="18" fill="#d6a58a"/><ellipse cx="108" cy="84" rx="73" ry="82" fill="#5a4434"/><path d="M43,76 C40,153 65,210 108,210 C151,210 176,153 173,76 C169,19 47,19 43,76Z" fill="#d6a58a"/><path d="M36,102 C30,14 65,4 108,4 C151,4 186,14 180,102 C174,46 144,50 108,64 C72,50 42,46 36,102Z" fill="#5a4434"/><ellipse cx="108" cy="47" rx="50" ry="37" fill="#d6a58a"/><ellipse cx="153" cy="138" rx="22" ry="43" fill="#5a2a1a" opacity="0.16"/><ellipse cx="59" cy="138" rx="16" ry="41" fill="#5a2a1a" opacity="0.12"/><ellipse cx="101" cy="76" rx="36" ry="16" fill="#fff" opacity="0.14"/></g><g filter="url(#b11)" opacity="0.85" transform="rotate(0 108 107)"><ellipse cx="78" cy="105" rx="14" ry="6" fill="#3e2a22"/><ellipse cx="138" cy="105" rx="14" ry="6" fill="#3e2a22"/><ellipse cx="76" cy="89" rx="19" ry="5" fill="#3e2a22"/><ellipse cx="140" cy="89" rx="19" ry="5" fill="#3e2a22"/><path d="M104,105 L96,144 L121,144Z" fill="#7a4a38" opacity="0.45"/><ellipse cx="109" cy="145" rx="14" ry="5" fill="#6a3a2c"/><ellipse cx="109" cy="169" rx="26" ry="5" fill="#7a3a34"/></g></g></svg>
<div style="left:381px;top:2706.5px;width:48.5px;height:33.5px;background:#2f8a50;"></div>
<svg style="left:554.5px;top:2718.5px" width="23.0" height="14.5"><polygon points="0,14.5 11.5,0 23.0,14.5" fill="#7dc15b"/></svg>
<div style="left:20px;top:2792.5px;width:561px;height:33.5px;background:#f2a081;"></div>
<svg style="left:298.5px;top:2866.5px" width="17" height="8"><polyline points="0,0.5 8.5,7 17,0.5" fill="none" stroke="#b5b5b5" stroke-width="1"/></svg>
<svg style="left:390.5px;top:2866.5px" width="17" height="8"><polyline points="0,0.5 8.5,7 17,0.5" fill="none" stroke="#b5b5b5" stroke-width="1"/></svg>
<svg style="left:507.5px;top:2866.5px" width="17" height="8"><polyline points="0,0.5 8.5,7 17,0.5" fill="none" stroke="#b5b5b5" stroke-width="1"/></svg>
<div style="left:20px;top:2882.0px;width:509px;height:1px;background:#333;"></div>
<svg style="left:44.0px;top:2891.0px" width="61.0" height="61.0" viewBox="0 0 200 200"><defs><clipPath id="c12"><circle cx="100" cy="100" r="100"/></clipPath><filter id="b12" x="-10%" y="-10%" width="120%" height="120%"><feGaussianBlur stdDeviation="3"/></filter></defs><g clip-path="url(#c12)"><rect width="200" height="200" fill="#c4c4c4"/><g filter="url(#b12)"><rect x="0" y="110" width="200" height="14" fill="#5a5a5a"/><rect x="0" y="140" width="200" height="10" fill="#6a3030"/></g><g filter="url(#b12)" transform="rotate(0 103 107)"><path d="M-53,215 C-40,226 42,202 72,194 L137,194 C171,202 253,226 266,215Z" fill="#34343a"/><polygon points="69,194 140,194 118,215 93,215" fill="#f0f0f0"/><rect x="68" y="153" width="71" height="74" rx="10" fill="#d8a890"/><ellipse cx="103" cy="212" rx="37" ry="12" fill="#00000030"/><ellipse cx="37" cy="115" rx="8" ry="18" fill="#d8a890"/><ellipse cx="169" cy="115" rx="8" ry="18" fill="#d8a890"/><ellipse cx="103" cy="84" rx="69" ry="82" fill="#8a8886"/><path d="M42,76 C38,153 62,210 103,210 C144,210 168,153 164,76 C161,19 45,19 42,76Z" fill="#d8a890"/><path d="M35,102 C30,14 62,4 103,4 C144,4 176,14 171,102 C166,32 137,35 103,35 C69,35 40,32 35,102Z" fill="#8a8886"/><ellipse cx="145" cy="138" rx="20" ry="43" fill="#5a2a1a" opacity="0.16"/><ellipse cx="57" cy="138" rx="15" ry="41" fill="#5a2a1a" opacity="0.12"/><ellipse cx="96" cy="76" rx="34" ry="16" fill="#fff" opacity="0.14"/></g><g filter="url(#b12)" opacity="0.85" transform="rotate(0 103 107)"><ellipse cx="74" cy="105" rx="13" ry="6" fill="#3e2a22"/><ellipse cx="132" cy="105" rx="13" ry="6" fill="#3e2a22"/><ellipse cx="73" cy="89" rx="18" ry="5" fill="#3e2a22"/><ellipse cx="133" cy="89" rx="18" ry="5" fill="#3e2a22"/><path d="M100,105 L92,144 L115,144Z" fill="#7a4a38" opacity="0.45"/><ellipse cx="104" cy="145" rx="14" ry="5" fill="#6a3a2c"/><ellipse cx="104" cy="169" rx="24" ry="5" fill="#7a3a34"/></g></g></svg>
<div style="left:336px;top:2902.5px;width:80.5px;height:33.5px;background:#f2a081;"></div>
<svg style="left:505px;top:2913.5px" width="24" height="14.5"><polygon points="0,0 24,0 12.0,14.5" fill="#e8474c"/></svg>
<div style="left:20px;top:2957.5px;width:509px;height:0;border-top:1px dotted #d4d4d4"></div>
<svg style="left:44.0px;top:2964.4px" width="61.0" height="61.0" viewBox="0 0 200 200"><defs><clipPath id="c13"><circle cx="100" cy="100" r="100"/></clipPath><filter id="b13" x="-10%" y="-10%" width="120%" height="120%"><feGaussianBlur stdDeviation="3"/></filter></defs><g clip-path="url(#c13)"><rect width="200" height="200" fill="#b0644a"/><g filter="url(#b13)"><rect x="150" y="100" width="50" height="60" fill="#c03028"/></g><g filter="url(#b13)" transform="rotate(0 102 107)"><path d="M-68,215 C-53,223 35,199 69,191 L139,191 C176,199 265,223 280,215Z" fill="#1e1e22"/><polygon points="65,191 143,191 118,215 91,215" fill="#bfe0f0"/><rect x="64" y="152" width="77" height="72" rx="10" fill="#d49878"/><ellipse cx="102" cy="209" rx="41" ry="12" fill="#00000030"/><ellipse cx="30" cy="115" rx="9" ry="17" fill="#d49878"/><ellipse cx="174" cy="115" rx="9" ry="17" fill="#d49878"/><ellipse cx="102" cy="85" rx="75" ry="80" fill="#2a2422"/><path d="M35,77 C32,152 58,207 102,207 C146,207 172,152 169,77 C165,22 39,22 35,77Z" fill="#d49878"/><path d="M28,102 C22,17 58,7 102,7 C146,7 182,17 176,102 C170,34 139,37 102,37 C65,37 34,34 28,102Z" fill="#2a2422"/><ellipse cx="148" cy="137" rx="22" ry="42" fill="#5a2a1a" opacity="0.16"/><ellipse cx="52" cy="137" rx="16" ry="40" fill="#5a2a1a" opacity="0.12"/><ellipse cx="95" cy="77" rx="37" ry="16" fill="#fff" opacity="0.14"/></g><g filter="url(#b13)" opacity="0.85" transform="rotate(0 102 107)"><ellipse cx="71" cy="105" rx="14" ry="6" fill="#3e2a22"/><ellipse cx="133" cy="105" rx="14" ry="6" fill="#3e2a22"/><ellipse cx="69" cy="90" rx="20" ry="4" fill="#3e2a22"/><ellipse cx="135" cy="90" rx="20" ry="4" fill="#3e2a22"/><path d="M98,105 L90,143 L115,143Z" fill="#7a4a38" opacity="0.45"/><ellipse cx="103" cy="144" rx="15" ry="4" fill="#6a3a2c"/><path d="M71,160 Q102,169 135,160 Q102,189 71,160Z" fill="#f4efec" stroke="#8a4238" stroke-width="3"/><rect x="46" y="93" width="46" height="25" rx="5" fill="none" stroke="#222" stroke-width="4"/><rect x="112" y="93" width="46" height="25" rx="5" fill="none" stroke="#222" stroke-width="4"/></g></g></svg>
<div style="left:336px;top:2975.9px;width:80px;height:33.5px;background:#f2a081;"></div>
<svg style="left:505px;top:2988.4px" width="24" height="14.5"><polygon points="0,14.5 12.0,0 24,14.5" fill="#7dc15b"/></svg>
<div style="left:20px;top:3030.9px;width:509px;height:0;border-top:1px dotted #d4d4d4"></div>
<svg style="left:44.0px;top:3037.8px" width="61.0" height="61.0" viewBox="0 0 200 200"><defs><clipPath id="c14"><circle cx="100" cy="100" r="100"/></clipPath><filter id="b14" x="-10%" y="-10%" width="120%" height="120%"><feGaussianBlur stdDeviation="3"/></filter></defs><g clip-path="url(#c14)"><rect width="200" height="200" fill="#e4e4e6"/><g filter="url(#b14)" transform="rotate(0 100 107)"><path d="M-70,215 C-55,223 33,199 67,191 L137,191 C174,199 263,223 278,215Z" fill="#2a2a2e"/><polygon points="63,191 141,191 116,215 89,215" fill="#5a5a60"/><rect x="62" y="152" width="77" height="72" rx="10" fill="#b98868"/><ellipse cx="100" cy="209" rx="41" ry="12" fill="#00000030"/><ellipse cx="28" cy="115" rx="9" ry="17" fill="#b98868"/><ellipse cx="172" cy="115" rx="9" ry="17" fill="#b98868"/><ellipse cx="100" cy="85" rx="75" ry="80" fill="#1e1c1c"/><path d="M33,77 C30,152 56,207 100,207 C144,207 170,152 167,77 C163,22 37,22 33,77Z" fill="#b98868"/><path d="M26,102 C20,17 56,7 100,7 C144,7 180,17 174,102 C168,45 137,49 100,49 C63,49 32,45 26,102Z" fill="#1e1c1c"/><ellipse cx="146" cy="137" rx="22" ry="42" fill="#5a2a1a" opacity="0.16"/><ellipse cx="50" cy="137" rx="16" ry="40" fill="#5a2a1a" opacity="0.12"/><ellipse cx="93" cy="77" rx="37" ry="16" fill="#fff" opacity="0.14"/></g><g filter="url(#b14)" opacity="0.85" transform="rotate(0 100 107)"><ellipse cx="69" cy="105" rx="14" ry="6" fill="#3e2a22"/><ellipse cx="131" cy="105" rx="14" ry="6" fill="#3e2a22"/><ellipse cx="67" cy="90" rx="20" ry="4" fill="#3e2a22"/><ellipse cx="133" cy="90" rx="20" ry="4" fill="#3e2a22"/><path d="M96,105 L88,143 L113,143Z" fill="#7a4a38" opacity="0.45"/><ellipse cx="101" cy="144" rx="15" ry="4" fill="#6a3a2c"/><ellipse cx="101" cy="167" rx="27" ry="5" fill="#7a3a34"/><ellipse cx="100" cy="142" rx="30" ry="9" fill="#1a1414"/></g></g></svg>
<div style="left:336px;top:3049.3px;width:69px;height:33.5px;background:#f2a081;"></div>
<svg style="left:505px;top:3061.8px" width="24" height="14.5"><polygon points="0,14.5 12.0,0 24,14.5" fill="#7dc15b"/></svg>
<div style="left:20px;top:3104.3px;width:509px;height:0;border-top:1px dotted #d4d4d4"></div>
<svg style="left:44.0px;top:3111.2px" width="61.0" height="61.0" viewBox="0 0 200 200"><defs><clipPath id="c15"><circle cx="100" cy="100" r="100"/></clipPath><filter id="b15" x="-10%" y="-10%" width="120%" height="120%"><feGaussianBlur stdDeviation="3"/></filter></defs><g clip-path="url(#c15)"><rect width="200" height="200" fill="#d4d0d0"/><g filter="url(#b15)"><rect x="0" y="0" width="70" height="200" fill="#d23028"/></g><g filter="url(#b15)" transform="rotate(0 105 107)"><path d="M-51,215 C-38,223 44,199 74,191 L139,191 C173,199 255,223 268,215Z" fill="#3a3a44"/><polygon points="71,191 142,191 120,215 95,215" fill="#e0e0e0"/><rect x="70" y="152" width="71" height="72" rx="10" fill="#d8a48a"/><ellipse cx="105" cy="209" rx="37" ry="12" fill="#00000030"/><ellipse cx="39" cy="115" rx="8" ry="17" fill="#d8a48a"/><ellipse cx="171" cy="115" rx="8" ry="17" fill="#d8a48a"/><ellipse cx="105" cy="85" rx="69" ry="80" fill="#4a4440"/><path d="M44,77 C40,152 64,207 105,207 C146,207 170,152 166,77 C163,22 47,22 44,77Z" fill="#d8a48a"/><path d="M37,102 C32,17 64,7 105,7 C146,7 178,17 173,102 C168,53 139,58 105,79 C71,58 42,53 37,102Z" fill="#4a4440"/><ellipse cx="105" cy="49" rx="48" ry="36" fill="#d8a48a"/><ellipse cx="147" cy="137" rx="20" ry="42" fill="#5a2a1a" opacity="0.16"/><ellipse cx="59" cy="137" rx="15" ry="40" fill="#5a2a1a" opacity="0.12"/><ellipse cx="98" cy="77" rx="34" ry="16" fill="#fff" opacity="0.14"/><path d="M45,132 Q105,169 165,132 Q159,207 105,209 Q51,207 45,132Z" fill="#8a8480" opacity="0.85"/></g><g filter="url(#b15)" opacity="0.85" transform="rotate(0 105 107)"><ellipse cx="76" cy="105" rx="13" ry="6" fill="#3e2a22"/><ellipse cx="134" cy="105" rx="13" ry="6" fill="#3e2a22"/><ellipse cx="75" cy="90" rx="18" ry="4" fill="#3e2a22"/><ellipse cx="135" cy="90" rx="18" ry="4" fill="#3e2a22"/><path d="M102,105 L94,143 L117,143Z" fill="#7a4a38" opacity="0.45"/><ellipse cx="106" cy="144" rx="14" ry="4" fill="#6a3a2c"/><ellipse cx="106" cy="167" rx="24" ry="5" fill="#7a3a34"/><rect x="54" y="93" width="42" height="25" rx="5" fill="none" stroke="#222" stroke-width="4"/><rect x="114" y="93" width="42" height="25" rx="5" fill="none" stroke="#222" stroke-width="4"/></g></g></svg>
<div style="left:336px;top:3122.7px;width:59.5px;height:33.5px;background:#f2a081;"></div>
<svg style="left:505px;top:3133.7px" width="24" height="14.5"><polygon points="0,0 24,0 12.0,14.5" fill="#e8474c"/></svg>
<div style="left:20px;top:3177.7px;width:509px;height:0;border-top:1px dotted #d4d4d4"></div>
<svg style="left:44.0px;top:3184.6px" width="61.0" height="61.0" viewBox="0 0 200 200"><defs><clipPath id="c16"><circle cx="100" cy="100" r="100"/></clipPath><filter id="b16" x="-10%" y="-10%" width="120%" height="120%"><feGaussianBlur stdDeviation="3"/></filter></defs><g clip-path="url(#c16)"><rect width="200" height="200" fill="#b4b0ac"/><g filter="url(#b16)" transform="rotate(0 100 107)"><path d="M-66,215 C-51,226 35,202 68,194 L136,194 C172,202 258,226 273,215Z" fill="#f0f0f0"/><polygon points="64,194 140,194 116,215 89,215" fill="#fff"/><rect x="63" y="153" width="75" height="74" rx="10" fill="#c89070"/><ellipse cx="100" cy="212" rx="40" ry="12" fill="#00000030"/><ellipse cx="30" cy="115" rx="9" ry="18" fill="#c89070"/><ellipse cx="170" cy="115" rx="9" ry="18" fill="#c89070"/><ellipse cx="100" cy="84" rx="73" ry="82" fill="#3a2e28"/><path d="M35,76 C32,153 57,210 100,210 C143,210 168,153 165,76 C161,19 39,19 35,76Z" fill="#c89070"/><path d="M28,102 C22,14 57,4 100,4 C143,4 178,14 172,102 C166,46 136,50 100,64 C64,50 34,46 28,102Z" fill="#3a2e28"/><ellipse cx="100" cy="47" rx="50" ry="37" fill="#c89070"/><ellipse cx="145" cy="138" rx="22" ry="43" fill="#5a2a1a" opacity="0.16"/><ellipse cx="51" cy="138" rx="16" ry="41" fill="#5a2a1a" opacity="0.12"/><ellipse cx="93" cy="76" rx="36" ry="16" fill="#fff" opacity="0.14"/></g><g filter="url(#b16)" opacity="0.85" transform="rotate(0 100 107)"><ellipse cx="70" cy="105" rx="14" ry="6" fill="#3e2a22"/><ellipse cx="130" cy="105" rx="14" ry="6" fill="#3e2a22"/><ellipse cx="68" cy="89" rx="19" ry="5" fill="#3e2a22"/><ellipse cx="132" cy="89" rx="19" ry="5" fill="#3e2a22"/><path d="M96,105 L88,144 L113,144Z" fill="#7a4a38" opacity="0.45"/><ellipse cx="101" cy="145" rx="14" ry="5" fill="#6a3a2c"/><ellipse cx="101" cy="169" rx="26" ry="5" fill="#7a3a34"/></g></g></svg>
<div style="left:336px;top:3196.1px;width:59.5px;height:33.5px;background:#f2a081;"></div>
<svg style="left:505px;top:3207.1px" width="24" height="14.5"><polygon points="0,0 24,0 12.0,14.5" fill="#e8474c"/></svg>
<div style="left:20px;top:3251.1px;width:509px;height:0;border-top:1px dotted #d4d4d4"></div>
<div style="left:20px;top:3297.5px;width:561px;height:34px;background:#d71920;"></div>
<svg style="left:362.0px;top:3373px" width="17" height="8"><polyline points="0,0.5 8.5,7 17,0.5" fill="none" stroke="#b5b5b5" stroke-width="1"/></svg>
<svg style="left:437.5px;top:3373px" width="17" height="8"><polyline points="0,0.5 8.5,7 17,0.5" fill="none" stroke="#b5b5b5" stroke-width="1"/></svg>
<svg style="left:554.5px;top:3373px" width="17" height="8"><polyline points="0,0.5 8.5,7 17,0.5" fill="none" stroke="#b5b5b5" stroke-width="1"/></svg>
<div style="left:25px;top:3388.5px;width:549px;height:1px;background:#333;"></div>
<svg style="left:52.5px;top:3397.0px" width="61.0" height="61.0" viewBox="0 0 200 200"><defs><clipPath id="c17"><circle cx="100" cy="100" r="100"/></clipPath><filter id="b17" x="-10%" y="-10%" width="120%" height="120%"><feGaussianBlur stdDeviation="3"/></filter></defs><g clip-path="url(#c17)"><rect width="200" height="200" fill="#a87434"/><g filter="url(#b17)"><rect x="150" y="0" width="50" height="200" fill="#d8c070"/></g><g filter="url(#b17)" transform="rotate(0 105 107)"><path d="M-56,215 C-42,223 42,199 74,191 L140,191 C175,199 259,223 273,215Z" fill="#222226"/><polygon points="70,191 144,191 120,215 94,215" fill="#f4f4f4"/><rect x="69" y="152" width="73" height="72" rx="10" fill="#d09878"/><ellipse cx="105" cy="209" rx="38" ry="12" fill="#00000030"/><ellipse cx="37" cy="115" rx="8" ry="17" fill="#d09878"/><ellipse cx="173" cy="115" rx="8" ry="17" fill="#d09878"/><ellipse cx="105" cy="85" rx="71" ry="80" fill="#241e1c"/><path d="M42,77 C38,152 63,207 105,207 C147,207 172,152 168,77 C164,22 46,22 42,77Z" fill="#d09878"/><path d="M35,102 C29,17 63,7 105,7 C147,7 181,17 175,102 C169,34 140,37 105,37 C70,37 41,34 35,102Z" fill="#241e1c"/><ellipse cx="148" cy="137" rx="21" ry="42" fill="#5a2a1a" opacity="0.16"/><ellipse cx="57" cy="137" rx="15" ry="40" fill="#5a2a1a" opacity="0.12"/><ellipse cx="98" cy="77" rx="35" ry="16" fill="#fff" opacity="0.14"/></g><g filter="url(#b17)" opacity="0.85" transform="rotate(0 105 107)"><ellipse cx="76" cy="105" rx="13" ry="6" fill="#3e2a22"/><ellipse cx="134" cy="105" rx="13" ry="6" fill="#3e2a22"/><ellipse cx="74" cy="90" rx="19" ry="4" fill="#3e2a22"/><ellipse cx="136" cy="90" rx="19" ry="4" fill="#3e2a22"/><path d="M102,105 L94,143 L118,143Z" fill="#7a4a38" opacity="0.45"/><ellipse cx="106" cy="144" rx="14" ry="4" fill="#6a3a2c"/><ellipse cx="106" cy="167" rx="25" ry="5" fill="#7a3a34"/></g></g></svg>
<div style="left:388.5px;top:3414.0px;width:66.5px;height:33.5px;background:#d71920;"></div>
<svg style="left:546.5px;top:3421.0px" width="23.5" height="14.5"><polygon points="0,14.5 11.75,0 23.5,14.5" fill="#7dc15b"/></svg>
<div style="left:25px;top:3463.5px;width:549px;height:0;border-top:1px dotted #d4d4d4"></div>
<svg style="left:52.5px;top:3470.4px" width="61.0" height="61.0" viewBox="0 0 200 200"><defs><clipPath id="c18"><circle cx="100" cy="100" r="100"/></clipPath><filter id="b18" x="-10%" y="-10%" width="120%" height="120%"><feGaussianBlur stdDeviation="3"/></filter></defs><g clip-path="url(#c18)"><rect width="200" height="200" fill="#f2f2f2"/><g filter="url(#b18)" transform="rotate(0 103 107)"><path d="M-67,215 C-52,223 36,199 70,191 L140,191 C177,199 266,223 281,215Z" fill="#f4f4f4"/><polygon points="66,191 144,191 119,215 92,215" fill="#fff"/><rect x="65" y="152" width="77" height="72" rx="10" fill="#d09a7c"/><ellipse cx="103" cy="209" rx="41" ry="12" fill="#00000030"/><ellipse cx="31" cy="115" rx="9" ry="17" fill="#d09a7c"/><ellipse cx="175" cy="115" rx="9" ry="17" fill="#d09a7c"/><ellipse cx="103" cy="85" rx="75" ry="80" fill="#6a6a6c"/><path d="M36,77 C33,152 59,207 103,207 C147,207 173,152 170,77 C166,22 40,22 36,77Z" fill="#d09a7c"/><path d="M29,102 C23,17 59,7 103,7 C147,7 183,17 177,102 C171,34 140,37 103,37 C66,37 35,34 29,102Z" fill="#6a6a6c"/><ellipse cx="149" cy="137" rx="22" ry="42" fill="#5a2a1a" opacity="0.16"/><ellipse cx="53" cy="137" rx="16" ry="40" fill="#5a2a1a" opacity="0.12"/><ellipse cx="96" cy="77" rx="37" ry="16" fill="#fff" opacity="0.14"/></g><g filter="url(#b18)" opacity="0.85" transform="rotate(0 103 107)"><ellipse cx="72" cy="105" rx="14" ry="6" fill="#3e2a22"/><ellipse cx="134" cy="105" rx="14" ry="6" fill="#3e2a22"/><ellipse cx="70" cy="90" rx="20" ry="4" fill="#3e2a22"/><ellipse cx="136" cy="90" rx="20" ry="4" fill="#3e2a22"/><path d="M99,105 L91,143 L116,143Z" fill="#7a4a38" opacity="0.45"/><ellipse cx="104" cy="144" rx="15" ry="4" fill="#6a3a2c"/><path d="M72,160 Q103,169 136,160 Q103,189 72,160Z" fill="#f4efec" stroke="#8a4238" stroke-width="3"/></g></g></svg>
<div style="left:388.5px;top:3487.4px;width:61.5px;height:33.5px;background:#d71920;"></div>
<svg style="left:546.5px;top:3492.9px" width="23.5" height="14.5"><polygon points="0,0 23.5,0 11.75,14.5" fill="#e8474c"/></svg>
<div style="left:25px;top:3536.9px;width:549px;height:0;border-top:1px dotted #d4d4d4"></div>
<svg style="left:52.5px;top:3543.8px" width="61.0" height="61.0" viewBox="0 0 200 200"><defs><clipPath id="c19"><circle cx="100" cy="100" r="100"/></clipPath><filter id="b19" x="-10%" y="-10%" width="120%" height="120%"><feGaussianBlur stdDeviation="3"/></filter></defs><g clip-path="url(#c19)"><rect width="200" height="200" fill="#f6efea"/><g filter="url(#b19)" transform="rotate(8 98 107)"><path d="M-63,215 C-49,223 35,199 66,191 L133,191 C168,199 252,223 266,215Z" fill="#26262a"/><polygon points="63,191 136,191 113,215 88,215" fill="#8aa0b8"/><rect x="62" y="152" width="73" height="72" rx="10" fill="#d0987c"/><ellipse cx="98" cy="209" rx="38" ry="12" fill="#00000030"/><ellipse cx="30" cy="115" rx="8" ry="17" fill="#d0987c"/><ellipse cx="166" cy="115" rx="8" ry="17" fill="#d0987c"/><ellipse cx="98" cy="85" rx="71" ry="80" fill="#2a2422"/><path d="M35,77 C32,152 56,207 98,207 C140,207 164,152 161,77 C158,22 38,22 35,77Z" fill="#d0987c"/><path d="M28,102 C22,17 56,7 98,7 C140,7 174,17 168,102 C162,45 133,49 98,59 C63,49 34,45 28,102Z" fill="#2a2422"/><ellipse cx="98" cy="49" rx="49" ry="36" fill="#d0987c"/><ellipse cx="141" cy="137" rx="21" ry="42" fill="#5a2a1a" opacity="0.16"/><ellipse cx="50" cy="137" rx="15" ry="40" fill="#5a2a1a" opacity="0.12"/><ellipse cx="91" cy="77" rx="35" ry="16" fill="#fff" opacity="0.14"/></g><g filter="url(#b19)" opacity="0.85" transform="rotate(8 98 107)"><ellipse cx="69" cy="105" rx="13" ry="6" fill="#3e2a22"/><ellipse cx="127" cy="105" rx="13" ry="6" fill="#3e2a22"/><ellipse cx="67" cy="90" rx="19" ry="4" fill="#3e2a22"/><ellipse cx="129" cy="90" rx="19" ry="4" fill="#3e2a22"/><path d="M94,105 L87,143 L111,143Z" fill="#7a4a38" opacity="0.45"/><ellipse cx="99" cy="144" rx="14" ry="4" fill="#6a3a2c"/><ellipse cx="99" cy="167" rx="25" ry="5" fill="#7a3a34"/></g></g></svg>
<div style="left:388.5px;top:3560.8px;width:49.0px;height:33.5px;background:#d71920;"></div>
<svg style="left:546.5px;top:3566.3px" width="23.5" height="14.5"><polygon points="0,0 23.5,0 11.75,14.5" fill="#e8474c"/></svg>
<div style="left:25px;top:3610.3px;width:549px;height:0;border-top:1px dotted #d4d4d4"></div>
<svg style="left:52.5px;top:3617.2px" width="61.0" height="61.0" viewBox="0 0 200 200"><defs><clipPath id="c20"><circle cx="100" cy="100" r="100"/></clipPath><filter id="b20" x="-10%" y="-10%" width="120%" height="120%"><feGaussianBlur stdDeviation="3"/></filter></defs><g clip-path="url(#c20)"><rect width="200" height="200" fill="#e2ecf6"/><g filter="url(#b20)" transform="rotate(0 100 107)"><path d="M-61,215 C-47,226 37,202 68,194 L135,194 C170,202 254,226 268,215Z" fill="#f4f4f4"/><polygon points="65,194 138,194 115,215 90,215" fill="#fff"/><rect x="64" y="153" width="73" height="74" rx="10" fill="#d8a088"/><ellipse cx="100" cy="212" rx="38" ry="12" fill="#00000030"/><ellipse cx="32" cy="115" rx="8" ry="18" fill="#d8a088"/><ellipse cx="168" cy="115" rx="8" ry="18" fill="#d8a088"/><ellipse cx="100" cy="84" rx="71" ry="82" fill="#d0d0d0"/><path d="M37,76 C34,153 58,210 100,210 C142,210 166,153 163,76 C160,19 40,19 37,76Z" fill="#d8a088"/><path d="M30,102 C24,14 58,4 100,4 C142,4 176,14 170,102 C164,43 135,47 100,58 C65,47 36,43 30,102Z" fill="#d0d0d0"/><ellipse cx="100" cy="47" rx="49" ry="37" fill="#d8a088"/><ellipse cx="143" cy="138" rx="21" ry="43" fill="#5a2a1a" opacity="0.16"/><ellipse cx="52" cy="138" rx="15" ry="41" fill="#5a2a1a" opacity="0.12"/><ellipse cx="93" cy="76" rx="35" ry="16" fill="#fff" opacity="0.14"/></g><g filter="url(#b20)" opacity="0.85" transform="rotate(0 100 107)"><ellipse cx="71" cy="105" rx="13" ry="6" fill="#3e2a22"/><ellipse cx="129" cy="105" rx="13" ry="6" fill="#3e2a22"/><ellipse cx="69" cy="89" rx="19" ry="5" fill="#3e2a22"/><ellipse cx="131" cy="89" rx="19" ry="5" fill="#3e2a22"/><path d="M96,105 L89,144 L113,144Z" fill="#7a4a38" opacity="0.45"/><ellipse cx="101" cy="145" rx="14" ry="5" fill="#6a3a2c"/><ellipse cx="101" cy="169" rx="25" ry="5" fill="#7a3a34"/></g></g></svg>
<div style="left:388.5px;top:3634.2px;width:48.0px;height:33.5px;background:#d71920;"></div>
<svg style="left:546.5px;top:3639.7px" width="23.5" height="14.5"><polygon points="0,0 23.5,0 11.75,14.5" fill="#e8474c"/></svg>
<div style="left:25px;top:3683.7px;width:549px;height:0;border-top:1px dotted #d4d4d4"></div>
</div>
<div id="t">
<span style="left:224.2px;top:26.2px;font-size:9.5px;color:#fff;letter-spacing:-1.84px;transform:scaleX(0.800);">EN</span>
<span class="sf" style="left:248.5px;top:20.0px;font-size:21px;font-weight:700;color:#fff;transform:scaleX(1.057);">EL ECONOMISTA</span>
<span style="left:30.0px;top:72.2px;font-size:34px;font-weight:700;color:#1a1a1a;transform:scaleX(1.037);-webkit-text-stroke:0.5px #1a1a1a;">Gobernadores con mayor</span>
<span style="left:28.9px;top:110.2px;font-size:34px;font-weight:700;color:#1a1a1a;transform:scaleX(1.031);-webkit-text-stroke:0.5px #1a1a1a;">incremento en su aprobación</span>
<span class="lt" style="left:74.0px;top:167.9px;font-size:19px;color:#222;transform:scaleX(1.018);-webkit-text-stroke:0.25px #222;">ENE 20</span>
<span class="lt" style="left:190.0px;top:167.9px;font-size:19px;color:#222;-webkit-text-stroke:0.25px #222;">DIC 19</span>
<span class="lt" style="left:307.3px;top:167.9px;font-size:19px;color:#222;transform:scaleX(0.869);-webkit-text-stroke:0.25px #222;">DIFERENCIA (+)</span>
<span style="left:50.6px;top:227.7px;font-size:35px;font-weight:700;color:#fff;">1</span>
<span style="left:203.9px;top:230.9px;font-size:28.5px;font-weight:700;color:#1a1a1a;transform:scaleX(1.125);-webkit-text-stroke:0.7px #1a1a1a;">Omar</span>
<span style="left:203.9px;top:261.4px;font-size:28.5px;font-weight:700;color:#1a1a1a;transform:scaleX(1.107);-webkit-text-stroke:0.7px #1a1a1a;">Fayad</span>
<span style="left:204.5px;top:299.4px;font-size:22px;color:#2a2a2a;transform:scaleX(1.049);">Hidalgo</span>
<span class="lt" style="left:452.1px;top:235.9px;font-size:25.5px;color:#222;transform:scaleX(0.870);-webkit-text-stroke:0.25px #222;">49.1%</span>
<span class="lt" style="left:452.1px;top:270.9px;font-size:25.5px;color:#222;transform:scaleX(0.870);-webkit-text-stroke:0.25px #222;">39.6%</span>
<span style="left:453.0px;top:304.6px;font-size:26.5px;font-weight:700;color:#1a1a1a;transform:scaleX(1.122);-webkit-text-stroke:0.7px #1a1a1a;">9.5</span>
<span style="left:51.6px;top:383.4px;font-size:35px;font-weight:700;color:#fff;">2</span>
<span style="left:205.0px;top:386.6px;font-size:28.5px;font-weight:700;color:#1a1a1a;transform:scaleX(1.082);-webkit-text-stroke:0.7px #1a1a1a;">Jaime</span>
<span style="left:204.0px;top:417.1px;font-size:28.5px;font-weight:700;color:#1a1a1a;transform:scaleX(1.040);-webkit-text-stroke:0.7px #1a1a1a;">Bonilla</span>
<span style="left:204.5px;top:455.1px;font-size:22px;color:#2a2a2a;transform:scaleX(1.012);">Baja California</span>
<span class="lt" style="left:452.2px;top:391.7px;font-size:25.5px;color:#222;transform:scaleX(0.836);-webkit-text-stroke:0.25px #222;">43%</span>
<span class="lt" style="left:452.1px;top:426.7px;font-size:25.5px;color:#222;transform:scaleX(0.870);-webkit-text-stroke:0.25px #222;">33.9%</span>
<span style="left:453.0px;top:460.3px;font-size:26.5px;font-weight:700;color:#1a1a1a;transform:scaleX(1.066);-webkit-text-stroke:0.7px #1a1a1a;">9.1</span>
<span style="left:52.6px;top:539.2px;font-size:35px;font-weight:700;color:#fff;">3</span>
<span style="left:203.9px;top:542.4px;font-size:28.5px;font-weight:700;color:#1a1a1a;transform:scaleX(1.128);-webkit-text-stroke:0.7px #1a1a1a;">Miguel</span>
<span style="left:203.9px;top:572.9px;font-size:28.5px;font-weight:700;color:#1a1a1a;transform:scaleX(1.060);-webkit-text-stroke:0.7px #1a1a1a;">Riquelme</span>
<span style="left:204.5px;top:610.9px;font-size:22px;color:#2a2a2a;transform:scaleX(1.005);">Coahuila</span>
<span class="lt" style="left:452.1px;top:547.4px;font-size:25.5px;color:#222;transform:scaleX(0.870);-webkit-text-stroke:0.25px #222;">43.9%</span>
<span class="lt" style="left:452.1px;top:582.4px;font-size:25.5px;color:#222;transform:scaleX(0.870);-webkit-text-stroke:0.25px #222;">37.6%</span>
<span style="left:453.0px;top:616.1px;font-size:26.5px;font-weight:700;color:#1a1a1a;transform:scaleX(1.108);-webkit-text-stroke:0.7px #1a1a1a;">6.3</span>
<span style="left:52.6px;top:694.9px;font-size:35px;font-weight:700;color:#fff;">4</span>
<span style="left:205.0px;top:698.1px;font-size:28.5px;font-weight:700;color:#1a1a1a;transform:scaleX(1.093);-webkit-text-stroke:0.7px #1a1a1a;">Juan Manuel</span>
<span style="left:203.9px;top:728.6px;font-size:28.5px;font-weight:700;color:#1a1a1a;transform:scaleX(1.074);-webkit-text-stroke:0.7px #1a1a1a;">Carreras</span>
<span style="left:204.6px;top:766.6px;font-size:22px;color:#2a2a2a;transform:scaleX(0.912);">San Luis Potosí</span>
<span class="lt" style="left:452.1px;top:703.2px;font-size:25.5px;color:#222;transform:scaleX(0.870);-webkit-text-stroke:0.25px #222;">31.4%</span>
<span class="lt" style="left:452.1px;top:738.2px;font-size:25.5px;color:#222;transform:scaleX(0.870);-webkit-text-stroke:0.25px #222;">25.5%</span>
<span style="left:453.0px;top:771.8px;font-size:26.5px;font-weight:700;color:#1a1a1a;transform:scaleX(1.122);-webkit-text-stroke:0.7px #1a1a1a;">5.9</span>
<span style="left:51.6px;top:850.7px;font-size:35px;font-weight:700;color:#fff;">5</span>
<span style="left:204.0px;top:853.9px;font-size:28.5px;font-weight:700;color:#1a1a1a;transform:scaleX(1.036);-webkit-text-stroke:0.7px #1a1a1a;">Carlos</span>
<span style="left:205.0px;top:884.4px;font-size:28.5px;font-weight:700;color:#1a1a1a;transform:scaleX(1.041);-webkit-text-stroke:0.7px #1a1a1a;">Aysa</span>
<span style="left:204.5px;top:922.4px;font-size:22px;color:#2a2a2a;transform:scaleX(0.980);">Campeche</span>
<span class="lt" style="left:452.1px;top:858.9px;font-size:25.5px;color:#222;transform:scaleX(0.870);-webkit-text-stroke:0.25px #222;">36.2%</span>
<span class="lt" style="left:452.1px;top:893.9px;font-size:25.5px;color:#222;transform:scaleX(0.870);-webkit-text-stroke:0.25px #222;">31.2%</span>
<span style="left:453.0px;top:927.6px;font-size:26.5px;font-weight:700;color:#1a1a1a;-webkit-text-stroke:0.7px #1a1a1a;">5</span>
<span style="left:41.0px;top:991.7px;font-size:34px;font-weight:700;color:#1a1a1a;transform:scaleX(1.048);-webkit-text-stroke:0.5px #1a1a1a;">Aprobación promedio en</span>
<span style="left:40.0px;top:1029.7px;font-size:34px;font-weight:700;color:#1a1a1a;transform:scaleX(1.050);-webkit-text-stroke:0.5px #1a1a1a;">estados, por partido político</span>
<span style="left:109.6px;top:1119.0px;font-size:19.5px;color:#ffffff;transform:scaleX(0.910);-webkit-text-stroke:0.6px #ffffff;">Ene 20</span>
<span style="left:174.0px;top:1114.5px;font-size:28px;font-weight:700;color:#ffffff;transform:scaleX(1.094);-webkit-text-stroke:0.6px #ffffff;">30.7%</span>
<span style="left:113.5px;top:1166.5px;font-size:19.5px;color:#ffffff;transform:scaleX(0.964);-webkit-text-stroke:0.6px #ffffff;">Dic 19</span>
<span style="left:174.0px;top:1163.0px;font-size:28px;font-weight:700;color:#ffffff;transform:scaleX(1.094);-webkit-text-stroke:0.6px #ffffff;">28.6%</span>
<span style="left:105.0px;top:1215.1px;font-size:22px;color:#ffffff;-webkit-text-stroke:0.8px #ffffff;">12 estados</span>
<span style="left:385.1px;top:1119.0px;font-size:19.5px;color:#ffffff;transform:scaleX(0.910);-webkit-text-stroke:0.6px #ffffff;">Ene 20</span>
<span style="left:452.5px;top:1114.5px;font-size:28px;font-weight:700;color:#ffffff;transform:scaleX(1.101);-webkit-text-stroke:0.6px #ffffff;">40.0%</span>
<span style="left:389.0px;top:1166.5px;font-size:19.5px;color:#ffffff;transform:scaleX(0.964);-webkit-text-stroke:0.6px #ffffff;">Dic 19</span>
<span style="left:452.5px;top:1163.0px;font-size:28px;font-weight:700;color:#ffffff;transform:scaleX(1.101);-webkit-text-stroke:0.6px #ffffff;">42.8%</span>
<span style="left:371.5px;top:1215.1px;font-size:22px;color:#ffffff;transform:scaleX(1.008);-webkit-text-stroke:0.8px #ffffff;">10 estados</span>
<span style="left:42.0px;top:1312.2px;font-size:14.5px;font-weight:700;color:#b3282d;transform:scaleX(0.919);">morena</span>
<span style="left:109.6px;top:1298.0px;font-size:19.5px;color:#ffffff;transform:scaleX(0.861);-webkit-text-stroke:0.6px #ffffff;">Ene 20</span>
<span style="left:174.0px;top:1293.5px;font-size:28px;font-weight:700;color:#ffffff;transform:scaleX(1.094);-webkit-text-stroke:0.6px #ffffff;">41.1%</span>
<span style="left:113.6px;top:1346.5px;font-size:19.5px;color:#ffffff;transform:scaleX(0.908);-webkit-text-stroke:0.6px #ffffff;">Dic 19</span>
<span style="left:174.0px;top:1342.5px;font-size:28px;font-weight:700;color:#ffffff;transform:scaleX(1.094);-webkit-text-stroke:0.6px #ffffff;">41.2%</span>
<span style="left:108.0px;top:1394.6px;font-size:22px;color:#ffffff;transform:scaleX(1.022);-webkit-text-stroke:0.8px #ffffff;">7 estados</span>
<span style="left:385.1px;top:1297.0px;font-size:19.5px;color:#ffffff;transform:scaleX(0.919);-webkit-text-stroke:0.6px #ffffff;">Ene 20</span>
<span style="left:454.0px;top:1292.5px;font-size:28px;font-weight:700;color:#ffffff;transform:scaleX(1.082);-webkit-text-stroke:0.6px #ffffff;">31.0%</span>
<span style="left:389.0px;top:1346.5px;font-size:19.5px;color:#ffffff;transform:scaleX(0.973);-webkit-text-stroke:0.6px #ffffff;">Dic 19</span>
<span style="left:454.0px;top:1342.5px;font-size:28px;font-weight:700;color:#ffffff;transform:scaleX(1.082);-webkit-text-stroke:0.6px #ffffff;">31.2%</span>
<span style="left:385.0px;top:1394.6px;font-size:22px;color:#ffffff;transform:scaleX(0.962);-webkit-text-stroke:0.8px #ffffff;">1 estado</span>
<span style="left:110.1px;top:1485.5px;font-size:19.5px;transform:scaleX(0.886);-webkit-text-stroke:0.6px #231f20;">Ene 20</span>
<span style="left:176.4px;top:1480.5px;font-size:28px;font-weight:700;transform:scaleX(1.064);-webkit-text-stroke:0.6px #231f20;">19.2%</span>
<span style="left:114.1px;top:1533.0px;font-size:19.5px;transform:scaleX(0.936);-webkit-text-stroke:0.6px #231f20;">Dic 19</span>
<span style="left:176.4px;top:1528.0px;font-size:28px;font-weight:700;transform:scaleX(1.064);-webkit-text-stroke:0.6px #231f20;">14.7%</span>
<span style="left:117.5px;top:1583.1px;font-size:22px;transform:scaleX(0.992);-webkit-text-stroke:0.8px #231f20;">1 estado</span>
<span style="left:388.1px;top:1473.5px;font-size:19.5px;color:#ffffff;transform:scaleX(0.875);-webkit-text-stroke:0.6px #ffffff;">INDEPENDIENTE</span>
<span style="left:386.6px;top:1502.0px;font-size:19.5px;color:#ffffff;transform:scaleX(0.902);-webkit-text-stroke:0.6px #ffffff;">Ene 20</span>
<span style="left:453.9px;top:1497.5px;font-size:28px;font-weight:700;color:#ffffff;transform:scaleX(1.083);-webkit-text-stroke:0.6px #ffffff;">17.8%</span>
<span style="left:389.0px;top:1537.0px;font-size:19.5px;color:#ffffff;transform:scaleX(0.973);-webkit-text-stroke:0.6px #ffffff;">Dic 19</span>
<span style="left:453.9px;top:1532.5px;font-size:28px;font-weight:700;color:#ffffff;transform:scaleX(1.083);-webkit-text-stroke:0.6px #ffffff;">18.3%</span>
<span style="left:385.0px;top:1578.1px;font-size:22px;color:#ffffff;transform:scaleX(0.962);-webkit-text-stroke:0.8px #ffffff;">1 estado</span>
<span style="left:25.4px;top:1676.5px;font-size:32.5px;font-weight:700;color:#1a1a1a;transform:scaleX(1.057);-webkit-text-stroke:0.5px #1a1a1a;">Mejores gobernadores por partido</span>
<span class="lt" style="left:411.5px;top:1722.1px;font-size:20px;color:#222;transform:scaleX(0.952);-webkit-text-stroke:0.25px #222;">% de aprobación</span>
<span style="left:46.0px;top:1818.2px;font-size:17.5px;font-weight:700;color:#ffffff;transform:scaleX(1.029);">PAN</span>
<span style="left:51.1px;top:1963.2px;font-size:17.5px;font-weight:700;color:#ffffff;transform:scaleX(0.897);">PRI</span>
<span style="left:32.0px;top:2105.2px;font-size:17.5px;font-weight:700;color:#ffffff;transform:scaleX(1.041);">Morena</span>
<span style="left:109.5px;top:1768.5px;font-size:22.5px;color:#1f1f1f;transform:scaleX(1.005);">Mauricio Vila</span>
<span class="lt" style="left:333.5px;top:1770.2px;font-size:20.5px;color:#222;transform:scaleX(0.897);-webkit-text-stroke:0.25px #222;">Yucatán</span>
<span style="left:481.4px;top:1767.9px;font-size:24px;font-weight:700;color:#1a1a1a;transform:scaleX(1.124);-webkit-text-stroke:0.6px #1a1a1a;">72.8%</span>
<span style="left:109.5px;top:1816.0px;font-size:22.5px;color:#1f1f1f;transform:scaleX(0.992);">Carlos Mendoza</span>
<span class="lt" style="left:331.4px;top:1817.7px;font-size:20.5px;color:#222;transform:scaleX(1.057);-webkit-text-stroke:0.25px #222;">BCS</span>
<span style="left:482.5px;top:1815.4px;font-size:24px;font-weight:700;color:#1a1a1a;transform:scaleX(1.108);-webkit-text-stroke:0.6px #1a1a1a;">58.2%</span>
<span style="left:109.6px;top:1863.5px;font-size:22.5px;color:#1f1f1f;transform:scaleX(0.947);">Francisco Domínguez</span>
<span class="lt" style="left:332.6px;top:1865.2px;font-size:20.5px;color:#222;transform:scaleX(0.912);-webkit-text-stroke:0.25px #222;">Querétaro</span>
<span style="left:482.5px;top:1862.9px;font-size:24px;font-weight:700;color:#1a1a1a;transform:scaleX(1.108);-webkit-text-stroke:0.6px #1a1a1a;">50.2%</span>
<span style="left:109.5px;top:1911.0px;font-size:22.5px;color:#1f1f1f;transform:scaleX(1.030);">Quirino Ordaz</span>
<span class="lt" style="left:332.6px;top:1912.7px;font-size:20.5px;color:#222;transform:scaleX(0.938);-webkit-text-stroke:0.25px #222;">Sinaloa</span>
<span style="left:482.5px;top:1910.4px;font-size:24px;font-weight:700;color:#1a1a1a;transform:scaleX(1.108);-webkit-text-stroke:0.6px #1a1a1a;">64.8%</span>
<span style="left:109.5px;top:1958.5px;font-size:22.5px;color:#1f1f1f;transform:scaleX(0.988);">Omar Fayad</span>
<span class="lt" style="left:331.5px;top:1960.2px;font-size:20.5px;color:#222;transform:scaleX(1.004);-webkit-text-stroke:0.25px #222;">Hidalgo</span>
<span style="left:482.5px;top:1957.9px;font-size:24px;font-weight:700;color:#1a1a1a;transform:scaleX(1.108);-webkit-text-stroke:0.6px #1a1a1a;">49.1%</span>
<span style="left:109.5px;top:2006.0px;font-size:22.5px;color:#1f1f1f;transform:scaleX(0.960);">Miguel Riquelme</span>
<span class="lt" style="left:332.5px;top:2007.7px;font-size:20.5px;color:#222;transform:scaleX(0.956);-webkit-text-stroke:0.25px #222;">Coahuila</span>
<span style="left:482.5px;top:2005.4px;font-size:24px;font-weight:700;color:#1a1a1a;transform:scaleX(1.108);-webkit-text-stroke:0.6px #1a1a1a;">43.9%</span>
<span style="left:109.5px;top:2053.5px;font-size:22.5px;color:#1f1f1f;transform:scaleX(0.984);">Claudia Sheinbaum</span>
<span class="lt" style="left:332.5px;top:2055.2px;font-size:20.5px;color:#222;transform:scaleX(1.037);-webkit-text-stroke:0.25px #222;">CDMX</span>
<span style="left:507.0px;top:2052.9px;font-size:24px;font-weight:700;color:#1a1a1a;transform:scaleX(1.059);-webkit-text-stroke:0.6px #1a1a1a;">59%</span>
<span style="left:109.6px;top:2101.0px;font-size:22.5px;color:#1f1f1f;transform:scaleX(0.935);">Rutilio Escandón</span>
<span class="lt" style="left:332.5px;top:2102.7px;font-size:20.5px;color:#222;transform:scaleX(0.961);-webkit-text-stroke:0.25px #222;">Chiapas</span>
<span style="left:482.5px;top:2100.4px;font-size:24px;font-weight:700;color:#1a1a1a;transform:scaleX(1.108);-webkit-text-stroke:0.6px #1a1a1a;">50.7%</span>
<span style="left:110.5px;top:2148.5px;font-size:22.5px;color:#1f1f1f;transform:scaleX(0.973);">Adán Augusto López</span>
<span class="lt" style="left:333.5px;top:2150.2px;font-size:20.5px;color:#222;transform:scaleX(0.935);-webkit-text-stroke:0.25px #222;">Tabasco</span>
<span style="left:482.5px;top:2147.9px;font-size:24px;font-weight:700;color:#1a1a1a;transform:scaleX(1.108);-webkit-text-stroke:0.6px #1a1a1a;">45.7%</span>
<span style="left:208.5px;top:2234.7px;font-size:24px;font-weight:700;color:#ffffff;transform:scaleX(0.902);">SOBRESALIENTE</span>
<span style="left:156.0px;top:2277.0px;font-size:19.5px;color:#2a2a2a;transform:scaleX(0.979);">% de acuerdo</span>
<span class="lt" style="left:298.1px;top:2276.4px;font-size:19px;color:#222;transform:scaleX(0.974);-webkit-text-stroke:0.25px #222;">Dic 19</span>
<span class="lt" style="left:419.1px;top:2276.4px;font-size:19px;color:#222;transform:scaleX(0.939);-webkit-text-stroke:0.25px #222;">Ene 20</span>
<span class="lt" style="left:547.5px;top:2276.4px;font-size:19px;color:#222;transform:scaleX(0.858);-webkit-text-stroke:0.25px #222;">Var.</span>
<span style="left:19.5px;top:2331.2px;font-size:17.5px;font-weight:700;color:#1a1a1a;-webkit-text-stroke:0.3px #1a1a1a;">1.</span>
<span style="left:107.6px;top:2331.5px;font-size:23px;font-weight:700;color:#1a1a1a;transform:scaleX(0.910);-webkit-text-stroke:0.4px #1a1a1a;">Mauricio Vila</span>
<span class="lt" style="left:108.5px;top:2359.7px;font-size:21px;color:#222;transform:scaleX(0.911);-webkit-text-stroke:0.25px #222;">Yucatán</span>
<span style="left:323.3px;top:2348.1px;font-size:23.5px;color:#222;">78.8</span>
<span style="left:473.8px;top:2341.9px;font-size:32px;font-weight:700;color:#1a1a1a;transform:scaleX(1.199);-webkit-text-stroke:0.8px #1a1a1a;">72.8</span>
<span style="left:20.5px;top:2404.7px;font-size:17.5px;font-weight:700;color:#1a1a1a;-webkit-text-stroke:0.3px #1a1a1a;">2.</span>
<span style="left:108.5px;top:2405.0px;font-size:23px;font-weight:700;color:#1a1a1a;transform:scaleX(0.926);-webkit-text-stroke:0.4px #1a1a1a;">Quirino Ordaz</span>
<span class="lt" style="left:107.6px;top:2433.2px;font-size:21px;color:#222;transform:scaleX(0.939);-webkit-text-stroke:0.25px #222;">Sinaloa</span>
<span style="left:324.3px;top:2421.6px;font-size:23.5px;color:#222;">62.9</span>
<span class="lt" style="left:463.0px;top:2418.9px;font-size:25.5px;color:#222;transform:scaleX(1.018);-webkit-text-stroke:0.25px #222;">64.8</span>
<span style="left:20.5px;top:2478.2px;font-size:17.5px;font-weight:700;color:#1a1a1a;-webkit-text-stroke:0.3px #1a1a1a;">3.</span>
<span style="left:108.5px;top:2478.5px;font-size:23px;font-weight:700;color:#1a1a1a;transform:scaleX(0.885);-webkit-text-stroke:0.4px #1a1a1a;">Claudia Sheinbaum</span>
<span class="lt" style="left:107.5px;top:2506.7px;font-size:21px;color:#222;transform:scaleX(1.017);-webkit-text-stroke:0.25px #222;">CDMX</span>
<span style="left:324.3px;top:2495.1px;font-size:23.5px;color:#222;">60.2</span>
<span class="lt" style="left:453.5px;top:2492.4px;font-size:25.5px;color:#222;transform:scaleX(1.010);-webkit-text-stroke:0.25px #222;">59</span>
<span style="left:20.5px;top:2551.7px;font-size:17.5px;font-weight:700;color:#1a1a1a;-webkit-text-stroke:0.3px #1a1a1a;">4.</span>
<span style="left:108.5px;top:2552.0px;font-size:23px;font-weight:700;color:#1a1a1a;transform:scaleX(0.903);-webkit-text-stroke:0.4px #1a1a1a;">Carlos Mendoza</span>
<span class="lt" style="left:106.6px;top:2580.2px;font-size:21px;color:#222;transform:scaleX(0.935);-webkit-text-stroke:0.25px #222;">Baja California Sur</span>
<span style="left:323.3px;top:2568.6px;font-size:23.5px;color:#222;">61.4</span>
<span class="lt" style="left:452.0px;top:2565.9px;font-size:25.5px;color:#222;transform:scaleX(1.008);-webkit-text-stroke:0.25px #222;">58.2</span>
<span style="left:20.5px;top:2625.2px;font-size:17.5px;font-weight:700;color:#1a1a1a;-webkit-text-stroke:0.3px #1a1a1a;">5.</span>
<span style="left:107.6px;top:2625.5px;font-size:23px;font-weight:700;color:#1a1a1a;transform:scaleX(0.853);-webkit-text-stroke:0.4px #1a1a1a;">Rutilio Escandón</span>
<span class="lt" style="left:107.5px;top:2653.7px;font-size:21px;color:#222;transform:scaleX(0.959);-webkit-text-stroke:0.25px #222;">Chiapas</span>
<span style="left:323.3px;top:2642.1px;font-size:23.5px;color:#222;">50.5</span>
<span class="lt" style="left:440.9px;top:2639.4px;font-size:25.5px;color:#222;transform:scaleX(1.028);-webkit-text-stroke:0.25px #222;">50.7</span>
<span style="left:20.5px;top:2698.7px;font-size:17.5px;font-weight:700;color:#1a1a1a;-webkit-text-stroke:0.3px #1a1a1a;">6.</span>
<span style="left:107.6px;top:2699.0px;font-size:23px;font-weight:700;color:#1a1a1a;transform:scaleX(0.863);-webkit-text-stroke:0.4px #1a1a1a;">Francisco Domínguez</span>
<span class="lt" style="left:107.6px;top:2727.2px;font-size:21px;color:#222;transform:scaleX(0.908);-webkit-text-stroke:0.25px #222;">Querétaro</span>
<span style="left:323.3px;top:2715.6px;font-size:23.5px;color:#222;">48.8</span>
<span class="lt" style="left:440.9px;top:2712.9px;font-size:25.5px;color:#222;transform:scaleX(1.028);-webkit-text-stroke:0.25px #222;">50.2</span>
<span style="left:268.0px;top:2798.2px;font-size:24px;font-weight:700;color:#ffffff;transform:scaleX(0.969);">BAJA</span>
<span style="left:106.5px;top:2840.5px;font-size:19.5px;color:#2a2a2a;transform:scaleX(0.975);">% de acuerdo</span>
<span class="lt" style="left:273.1px;top:2839.9px;font-size:19px;color:#222;transform:scaleX(0.974);-webkit-text-stroke:0.25px #222;">Dic 19</span>
<span class="lt" style="left:382.1px;top:2839.9px;font-size:19px;color:#222;transform:scaleX(0.931);-webkit-text-stroke:0.25px #222;">Ene 20</span>
<span class="lt" style="left:498.5px;top:2839.9px;font-size:19px;color:#222;transform:scaleX(0.873);-webkit-text-stroke:0.25px #222;">Var.</span>
<span style="left:20.5px;top:2895.2px;font-size:17.5px;font-weight:700;color:#1a1a1a;-webkit-text-stroke:0.3px #1a1a1a;">24.</span>
<span style="left:113.5px;top:2895.5px;font-size:23px;font-weight:700;color:#1a1a1a;transform:scaleX(0.915);-webkit-text-stroke:0.4px #1a1a1a;">Alejandro Murat</span>
<span class="lt" style="left:112.5px;top:2923.7px;font-size:21px;color:#222;-webkit-text-stroke:0.25px #222;">Oaxaca</span>
<span style="left:285.3px;top:2912.1px;font-size:23.5px;color:#222;">30.9</span>
<span class="lt" style="left:425.0px;top:2909.4px;font-size:25.5px;color:#222;transform:scaleX(0.990);-webkit-text-stroke:0.25px #222;">29.9</span>
<span style="left:20.5px;top:2968.6px;font-size:17.5px;font-weight:700;color:#1a1a1a;-webkit-text-stroke:0.3px #1a1a1a;">25.</span>
<span style="left:112.6px;top:2968.9px;font-size:23px;font-weight:700;color:#1a1a1a;transform:scaleX(0.920);-webkit-text-stroke:0.4px #1a1a1a;">Marco Mena</span>
<span class="lt" style="left:113.5px;top:2997.1px;font-size:21px;color:#222;transform:scaleX(0.902);-webkit-text-stroke:0.25px #222;">Tlaxcala</span>
<span style="left:285.3px;top:2985.5px;font-size:23.5px;color:#222;">28.1</span>
<span class="lt" style="left:422.5px;top:2982.8px;font-size:25.5px;color:#222;transform:scaleX(0.962);-webkit-text-stroke:0.25px #222;">29.7</span>
<span style="left:20.5px;top:3042.0px;font-size:17.5px;font-weight:700;color:#1a1a1a;-webkit-text-stroke:0.3px #1a1a1a;">26.</span>
<span style="left:113.5px;top:3042.3px;font-size:23px;font-weight:700;color:#1a1a1a;transform:scaleX(0.887);-webkit-text-stroke:0.4px #1a1a1a;">Javier Corral</span>
<span class="lt" style="left:112.6px;top:3070.5px;font-size:21px;color:#222;transform:scaleX(0.914);-webkit-text-stroke:0.25px #222;">Chihuahua</span>
<span style="left:303.9px;top:3058.9px;font-size:23.5px;color:#222;">26</span>
<span class="lt" style="left:410.0px;top:3056.2px;font-size:25.5px;color:#222;transform:scaleX(0.990);-webkit-text-stroke:0.25px #222;">26.7</span>
<span style="left:20.5px;top:3115.4px;font-size:17.5px;font-weight:700;color:#1a1a1a;-webkit-text-stroke:0.3px #1a1a1a;">27.</span>
<span style="left:112.6px;top:3115.7px;font-size:23px;font-weight:700;color:#1a1a1a;transform:scaleX(0.887);-webkit-text-stroke:0.4px #1a1a1a;">Ignacio Peralta</span>
<span class="lt" style="left:112.5px;top:3143.9px;font-size:21px;color:#222;transform:scaleX(0.962);-webkit-text-stroke:0.25px #222;">Colima</span>
<span style="left:284.3px;top:3132.3px;font-size:23.5px;color:#222;">27.3</span>
<span class="lt" style="left:404.0px;top:3129.6px;font-size:25.5px;color:#222;transform:scaleX(0.962);-webkit-text-stroke:0.25px #222;">24.3</span>
<span style="left:20.5px;top:3188.8px;font-size:17.5px;font-weight:700;color:#1a1a1a;-webkit-text-stroke:0.3px #1a1a1a;">28.</span>
<span style="left:113.5px;top:3189.1px;font-size:23px;font-weight:700;color:#1a1a1a;transform:scaleX(0.869);-webkit-text-stroke:0.4px #1a1a1a;">Carlos Joaquín</span>
<span class="lt" style="left:112.6px;top:3217.3px;font-size:21px;color:#222;transform:scaleX(0.915);-webkit-text-stroke:0.25px #222;">Quintana Roo</span>
<span style="left:284.3px;top:3205.7px;font-size:23.5px;color:#222;">24.6</span>
<span style="left:403.8px;top:3199.5px;font-size:32px;font-weight:700;color:#1a1a1a;transform:scaleX(1.199);-webkit-text-stroke:0.8px #1a1a1a;">24.3</span>
<span style="left:236.5px;top:3303.7px;font-size:24px;font-weight:700;color:#ffffff;transform:scaleX(1.008);">MUY BAJA</span>
<span style="left:152.5px;top:3347.0px;font-size:19.5px;color:#2a2a2a;transform:scaleX(0.984);">% de acuerdo</span>
<span class="lt" style="left:297.1px;top:3346.4px;font-size:19px;color:#222;transform:scaleX(0.974);-webkit-text-stroke:0.25px #222;">Dic 19</span>
<span class="lt" style="left:419.1px;top:3346.4px;font-size:19px;color:#222;transform:scaleX(0.939);-webkit-text-stroke:0.25px #222;">Ene 20</span>
<span class="lt" style="left:541.0px;top:3346.4px;font-size:19px;color:#222;transform:scaleX(0.873);-webkit-text-stroke:0.25px #222;">Var.</span>
<span style="left:31.5px;top:3401.2px;font-size:17.5px;font-weight:700;color:#1a1a1a;-webkit-text-stroke:0.3px #1a1a1a;">29.</span>
<span style="left:124.5px;top:3401.5px;font-size:23px;font-weight:700;color:#1a1a1a;transform:scaleX(0.872);-webkit-text-stroke:0.4px #1a1a1a;">Silvano Aureoles</span>
<span class="lt" style="left:121.6px;top:3429.7px;font-size:21px;color:#222;transform:scaleX(0.982);-webkit-text-stroke:0.25px #222;">Michoacán</span>
<span style="left:332.8px;top:3418.1px;font-size:23.5px;color:#222;">14.7</span>
<span class="lt" style="left:460.5px;top:3415.4px;font-size:25.5px;color:#222;transform:scaleX(0.980);-webkit-text-stroke:0.25px #222;">19.2</span>
<span style="left:31.5px;top:3474.6px;font-size:17.5px;font-weight:700;color:#1a1a1a;-webkit-text-stroke:0.3px #1a1a1a;">30.</span>
<span style="left:124.5px;top:3474.9px;font-size:23px;font-weight:700;color:#1a1a1a;transform:scaleX(0.877);-webkit-text-stroke:0.4px #1a1a1a;">Jaime Rodríguez</span>
<span class="lt" style="left:122.7px;top:3503.1px;font-size:21px;color:#222;transform:scaleX(0.913);-webkit-text-stroke:0.25px #222;">Nuevo León</span>
<span style="left:331.8px;top:3491.5px;font-size:23.5px;color:#222;">18.3</span>
<span class="lt" style="left:458.1px;top:3488.8px;font-size:25.5px;color:#222;transform:scaleX(0.932);-webkit-text-stroke:0.25px #222;">17.8</span>
<span style="left:31.5px;top:3548.0px;font-size:17.5px;font-weight:700;color:#1a1a1a;-webkit-text-stroke:0.3px #1a1a1a;">31.</span>
<span style="left:124.5px;top:3548.3px;font-size:23px;font-weight:700;color:#1a1a1a;transform:scaleX(0.857);-webkit-text-stroke:0.4px #1a1a1a;">Cuauhtémoc Blanco</span>
<span class="lt" style="left:121.6px;top:3576.5px;font-size:21px;color:#222;transform:scaleX(0.958);-webkit-text-stroke:0.25px #222;">Morelos</span>
<span style="left:331.8px;top:3564.9px;font-size:23.5px;color:#222;">18.6</span>
<span class="lt" style="left:446.6px;top:3562.2px;font-size:25.5px;color:#222;transform:scaleX(0.951);-webkit-text-stroke:0.25px #222;">14.8</span>
<span style="left:31.5px;top:3621.4px;font-size:17.5px;font-weight:700;color:#1a1a1a;-webkit-text-stroke:0.3px #1a1a1a;">32.</span>
<span style="left:124.5px;top:3621.7px;font-size:23px;font-weight:700;color:#1a1a1a;transform:scaleX(0.913);-webkit-text-stroke:0.4px #1a1a1a;">Alfredo del Mazo</span>
<span class="lt" style="left:122.6px;top:3649.9px;font-size:21px;color:#222;transform:scaleX(0.931);-webkit-text-stroke:0.25px #222;">Estado de México</span>
<span style="left:331.8px;top:3638.3px;font-size:23.5px;color:#222;">16.5</span>
<span style="left:441.8px;top:3632.1px;font-size:32px;font-weight:700;color:#1a1a1a;transform:scaleX(1.110);-webkit-text-stroke:0.8px #1a1a1a;">14.5</span>
<span class="lt" style="left:23.3px;top:3710.2px;font-size:17.5px;color:#111;transform:scaleX(0.872);-webkit-text-stroke:0.3px #111;">Nota metodológica: mexicanos mayores de 18 años con dispositivos</span>
<span class="lt" style="left:24.1px;top:3732.7px;font-size:17.5px;color:#111;transform:scaleX(0.887);-webkit-text-stroke:0.3px #111;">móviles inteligentes con acceso a Internet; ago/19: 34,248 casos;</span>
<span class="lt" style="left:24.0px;top:3755.2px;font-size:17.5px;color:#111;transform:scaleX(0.973);-webkit-text-stroke:0.3px #111;">sep/19: 43,420 casos; oct/19: 25,290 casos; nov/19: 51,182</span>
<span class="lt" style="left:24.0px;top:3777.7px;font-size:17.5px;color:#111;transform:scaleX(0.955);-webkit-text-stroke:0.3px #111;">casos; dic/19: 49,793 casos; ene/20: 26,510 casos.</span>
<span class="lt" style="left:19.0px;top:3821.9px;font-size:15.5px;color:#111;transform:scaleX(0.981);-webkit-text-stroke:0.3px #111;">FUENTE: EL ECONOMISTA / CONSULTA MITOFSKY.</span>
</div>
</body></html>
